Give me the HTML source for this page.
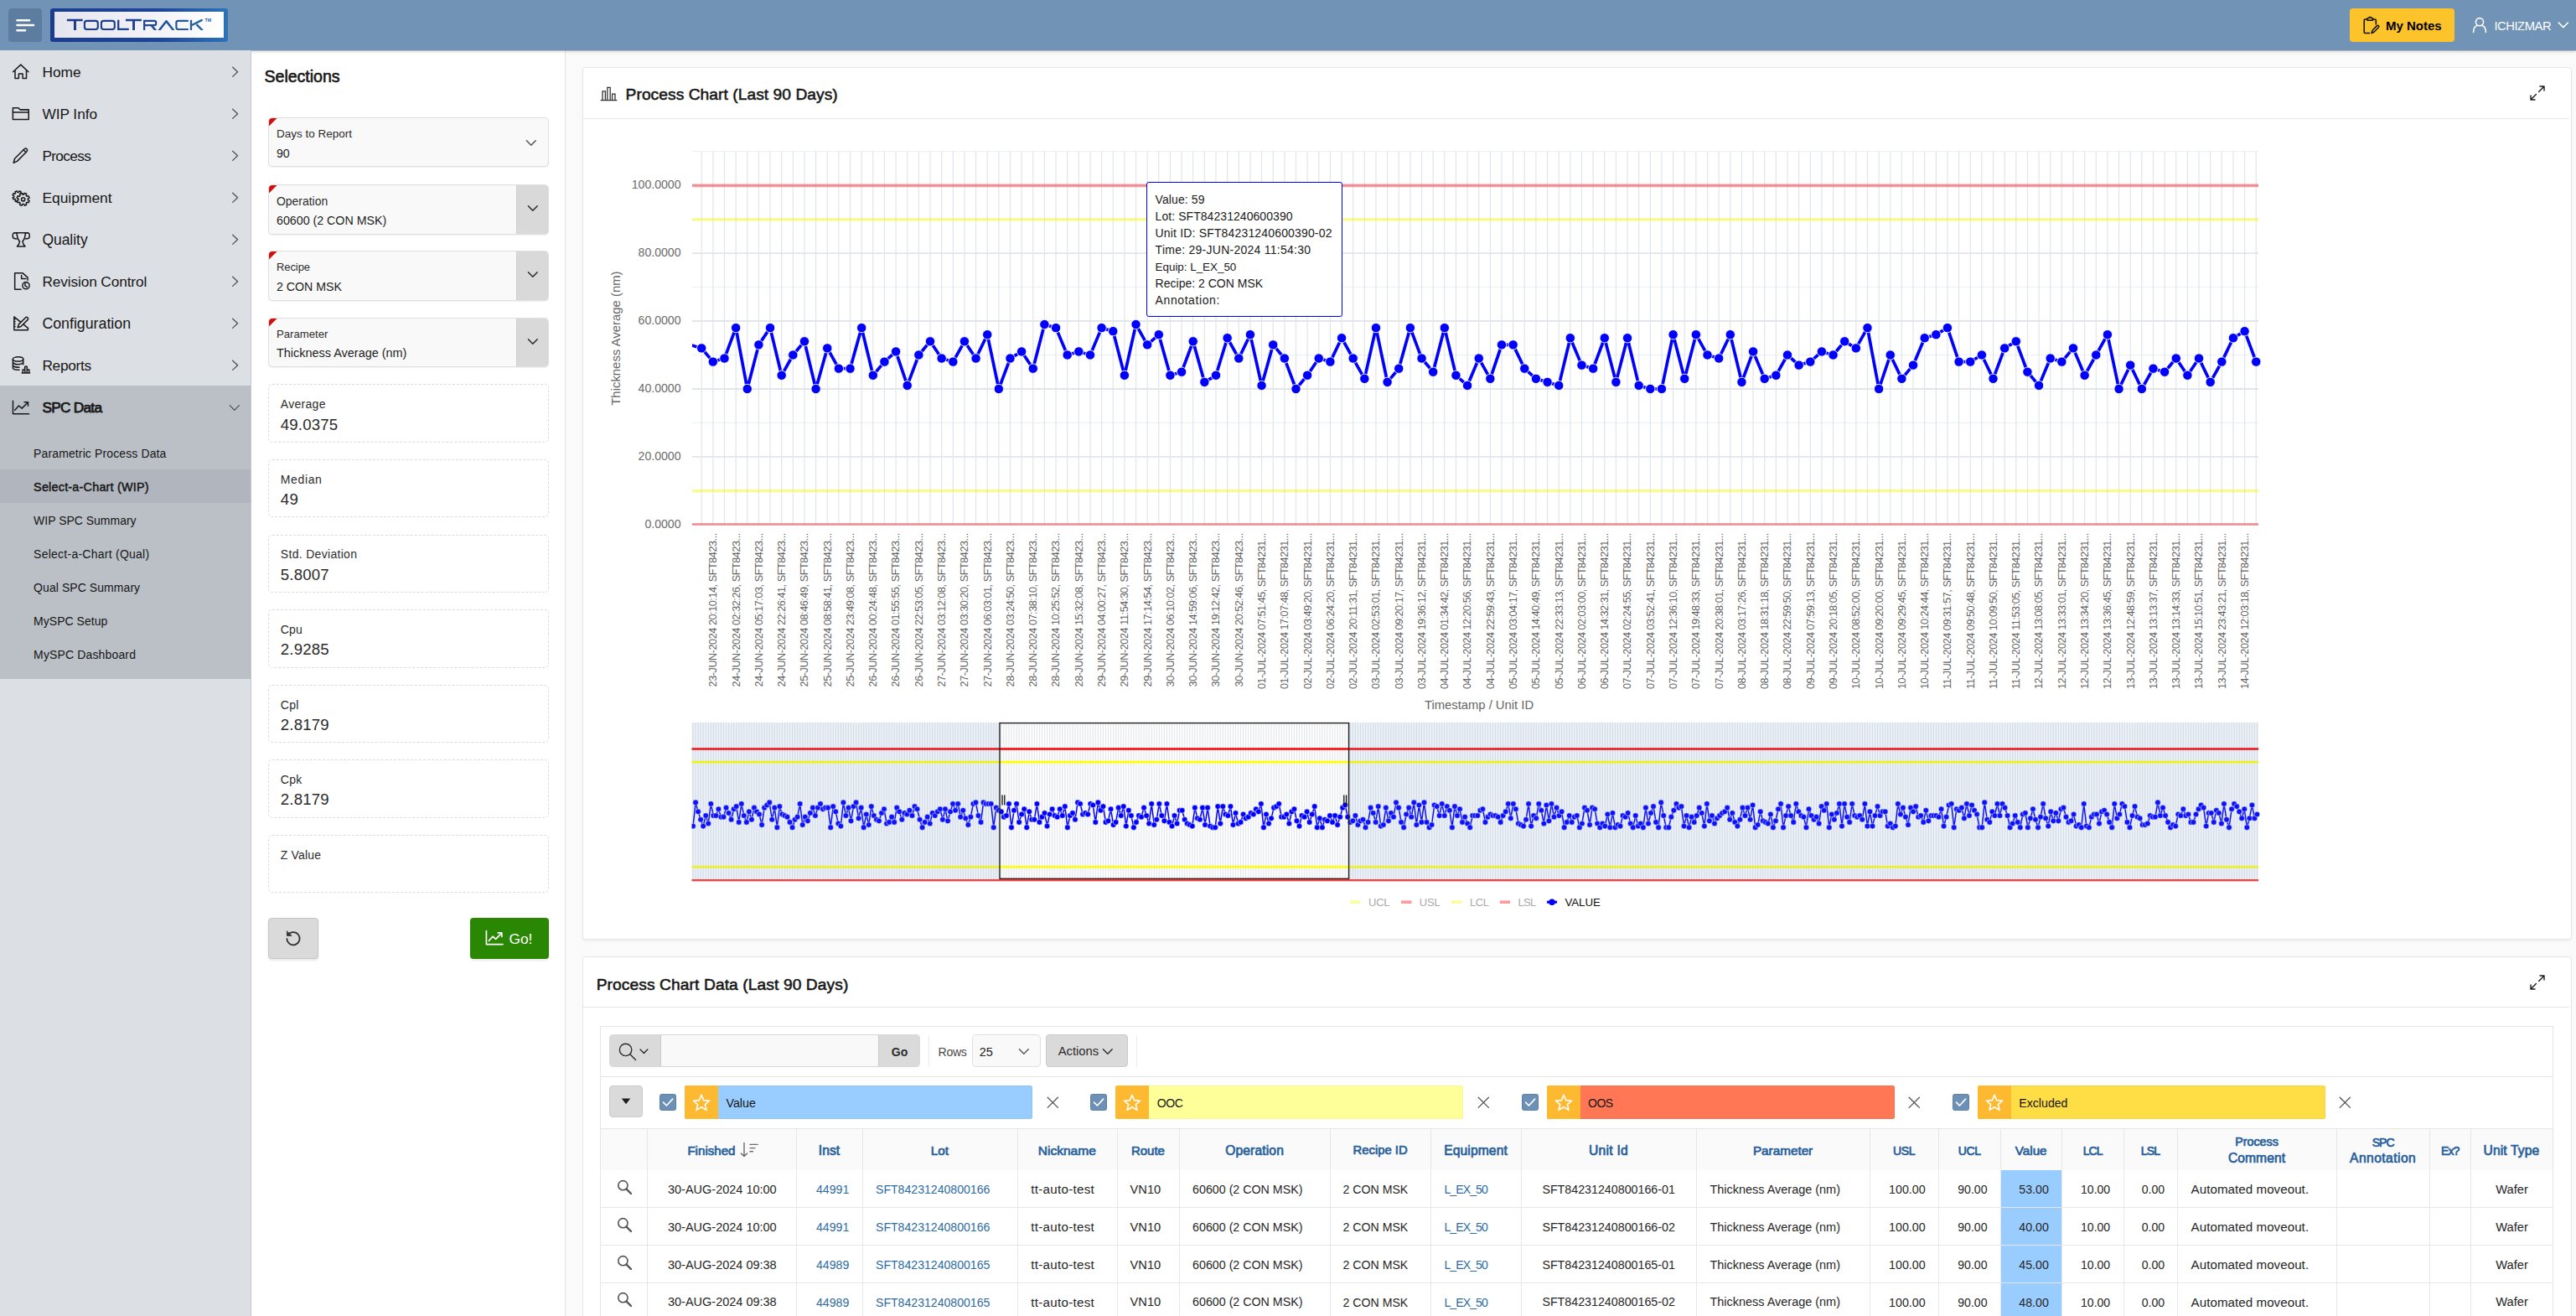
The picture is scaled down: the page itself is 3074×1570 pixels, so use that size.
<!DOCTYPE html>
<html><head><meta charset="utf-8"><title>ToolTrack</title><style>
*{box-sizing:border-box}
html,body{margin:0;padding:0}
body{width:3074px;height:1570px;overflow:hidden;position:relative;background:#fafafa;font-family:"Liberation Sans",sans-serif;color:#262626}
.t{position:absolute;white-space:nowrap}
.abs{position:absolute}
svg{position:absolute;overflow:visible}
</style></head><body>
<div class="abs" style="left:300px;top:60px;width:375px;height:1510px;background:#fff;border-right:1.2px solid #e4e4e4"></div>
<div class="abs" style="left:695px;top:80px;width:2373.5px;height:1040.5px;background:#fff;border:1.2px solid #e6e6e6;border-radius:3px;box-shadow:0 2px 3px rgba(0,0,0,.05)"></div>
<div class="abs" style="left:696px;top:140.6px;width:2370px;height:1.2px;background:#e8e8e8"></div>
<div class="abs" style="left:695px;top:1141px;width:2373.5px;height:460px;background:#fff;border:1.2px solid #e6e6e6;border-radius:3px"></div>
<div class="abs" style="left:696px;top:1201.3px;width:2370px;height:1.2px;background:#e8e8e8"></div>
<div class="abs" style="left:0;top:0;width:3074px;height:60px;background:#7093b6;box-shadow:0 1px 0 rgba(20,50,90,.22),0 2px 3.5px rgba(0,0,0,.13)"></div>
<div class="abs" style="left:10px;top:10px;width:40px;height:40px;background:#5c7d9f;border-radius:4px"></div>
<svg style="left:10px;top:10px" width="40" height="40"><g stroke="#fff" stroke-width="2.6" stroke-linecap="round"><path d="M10.5 14.2H25M10.5 20H30M10.5 26.2H20"/></g></svg>
<div class="abs" style="left:60px;top:10px;width:212px;height:40px;border-radius:3px;background:linear-gradient(90deg,#1b3c8f 0%,#1d4497 60%,#2c73b8 100%)"></div>
<div class="abs" style="left:64.9px;top:13.8px;width:202.4px;height:31.2px;background:linear-gradient(90deg,#e5e5ee 0%,#efeff5 45%,#ffffff 100%)"></div>
<svg style="left:60px;top:10px" width="212" height="40"><defs><linearGradient id="lg" gradientUnits="userSpaceOnUse" x1="20" y1="0" x2="192" y2="0"><stop offset="0" stop-color="#1b3787"/><stop offset="0.5" stop-color="#1c4391"/><stop offset="1" stop-color="#2467aa"/></linearGradient><clipPath id="lc"><rect x="15" y="10" width="180" height="16.05"/></clipPath></defs><g fill="none" stroke="url(#lg)" stroke-width="2.1" stroke-linejoin="miter" clip-path="url(#lc)"><path d="M19.85 14H38.7M89.9 14H108.9" stroke-width="2.35"/><path d="M29.45 14V26.1M99.55 14V26.1" stroke-width="2.9"/><rect x="40.9" y="14.85" width="15.9" height="10.15" rx="2.7"/><rect x="60.9" y="14.85" width="15.9" height="10.15" rx="2.7"/><path d="M81.2 13.8V25H93.8" stroke-width="2.3"/><path d="M112.15 26.1V14.85H124.1Q126.2 14.85 126.2 16.95V17.95Q126.2 20.05 124.1 20.05H112.15" stroke-width="2.2"/><path d="M120.7 20.3L126 26.6" stroke-width="2.5"/><path d="M129.3 27L138.5 15.2L147.700 27" stroke-width="2.5" stroke-linejoin="round"/><path d="M164.800 14.85H152.6Q150.4 14.85 150.4 17.05V22.8Q150.4 25 152.6 25H164.8" stroke-width="2.2"/><path d="M168 13.8V26.1" stroke-width="2.3"/><path d="M181.6 13.6L169 20M174.5 19.2L181.9 26.6" stroke-width="2.4"/></g><text x="184.6" y="16.1" font-family="Liberation Sans" font-size="4.6" font-weight="bold" fill="#2a5fa6" textLength="7.600" lengthAdjust="spacingAndGlyphs">TM</text></svg>
<div class="abs" style="left:2804px;top:10px;width:124.5px;height:40px;background:#fcc32b;border-radius:4px"></div>
<svg style="left:2819px;top:19px" width="22" height="24" viewBox="0 0 22 24"><g fill="none" stroke="#111" stroke-width="1.5" stroke-linejoin="round" stroke-linecap="round"><path d="M6 4H3.2Q2.2 4 2.2 5V19.5Q2.2 20.5 3.2 20.5H8.5"/><path d="M12.5 4H15.3Q16.3 4 16.3 5V10"/><path d="M6 5.2V3.3Q6 2.6 6.8 2.6H8L8.6 1.4H10L10.6 2.6H11.7Q12.5 2.6 12.5 3.3V5.2Z"/><path d="M11 20.6L12 17.2L17.6 11.6Q18.6 10.8 19.5 11.7Q20.3 12.6 19.5 13.5L13.9 19.2Z"/></g></svg>
<div class="t" style="left:2847.00px;top:21.10px;font-size:15.00px;line-height:20px;color:#000;font-weight:bold;">My Notes</div>
<svg style="left:2949px;top:19px" width="20" height="22" viewBox="0 0 20 22"><g fill="none" stroke="#fff" stroke-width="1.6" stroke-linecap="round"><circle cx="10" cy="7.2" r="4.6"/><path d="M2.6 19.5Q2.8 12.6 7.2 11.2M17.4 19.5Q17.2 12.6 12.8 11.2"/></g></svg>
<div class="t" style="left:2976.40px;top:21.60px;font-size:14.76px;line-height:19px;color:#fff;letter-spacing:-0.442px;">ICHIZMAR</div>
<svg style="left:3052px;top:25px" width="14" height="10"><path d="M1.2 2L6.8 7.6L12.4 2" fill="none" stroke="#fff" stroke-width="1.6" stroke-linecap="round" stroke-linejoin="round"/></svg>
<div class="abs" style="left:0;top:60px;width:299px;height:1510px;background:#dcdfe4"></div>
<div class="abs" style="left:298.8px;top:60px;width:1.2px;height:1510px;background:#c3c6cc"></div>
<div class="abs" style="left:0;top:460px;width:298.8px;height:350px;background:#bbc0c6"></div>
<div class="abs" style="left:0;top:560.4px;width:298.8px;height:40px;background:#b0b5be"></div>
<svg style="left:13.9px;top:74.5px" width="22" height="22" viewBox="0 0 21 21"><g fill="none" stroke="#1b1b1b" stroke-width="1.45" stroke-linejoin="round" stroke-linecap="round"><path d="M1.5 10.2L10.3 2L19 10.2"/><path d="M3.8 8.6V17.6H8V12.4H12.5V17.6H16.7V8.6"/></g></svg>
<div class="t" style="left:50.40px;top:74.70px;font-size:17.32px;line-height:23px;color:#161616;">Home</div>
<svg style="left:276px;top:78.7px" width="10" height="14"><path d="M1.6 1.2L7.6 6.8L1.6 12.4" fill="none" stroke="#505050" stroke-width="1.25" stroke-linecap="round" stroke-linejoin="round"/></svg>
<svg style="left:13.9px;top:124.5px" width="22" height="22" viewBox="0 0 21 21"><g fill="none" stroke="#1b1b1b" stroke-width="1.45" stroke-linejoin="round" stroke-linecap="round"><path d="M1.3 16.8V3.6H7.6L9.4 5.6H19.3V16.8Z"/><path d="M1.3 8.6H19.3"/></g></svg>
<div class="t" style="left:50.40px;top:125.20px;font-size:17.28px;line-height:22px;color:#161616;letter-spacing:-0.031px;">WIP Info</div>
<svg style="left:276px;top:128.7px" width="10" height="14"><path d="M1.6 1.2L7.6 6.8L1.6 12.4" fill="none" stroke="#505050" stroke-width="1.25" stroke-linecap="round" stroke-linejoin="round"/></svg>
<svg style="left:13.9px;top:174.5px" width="22" height="22" viewBox="0 0 21 21"><g fill="none" stroke="#1b1b1b" stroke-width="1.45" stroke-linejoin="round" stroke-linecap="round"><path d="M2 18.4L3.4 13.6L14.6 2.4Q15.8 1.4 17.2 2.7Q18.4 4 17.3 5.2L6.2 16.6Z"/><path d="M13.4 3.6L16.2 6.4"/></g></svg>
<div class="t" style="left:50.40px;top:175.20px;font-size:17.28px;line-height:22px;color:#161616;letter-spacing:-0.660px;">Process</div>
<svg style="left:276px;top:178.7px" width="10" height="14"><path d="M1.6 1.2L7.6 6.8L1.6 12.4" fill="none" stroke="#505050" stroke-width="1.25" stroke-linecap="round" stroke-linejoin="round"/></svg>
<svg style="left:13.9px;top:224.5px" width="22" height="22" viewBox="0 0 21 21"><g fill="none" stroke="#1b1b1b" stroke-width="1.45" stroke-linejoin="round" stroke-linecap="round"><path d="M13.34 10.32L12.55 12.23L10.94 11.75L10.05 12.64L10.53 14.25L8.62 15.04L7.83 13.56L6.57 13.56L5.78 15.04L3.87 14.25L4.35 12.64L3.46 11.75L1.85 12.23L1.06 10.32L2.54 9.53L2.54 8.27L1.06 7.48L1.85 5.57L3.46 6.05L4.35 5.16L3.87 3.55L5.78 2.76L6.57 4.24L7.83 4.24L8.62 2.76L10.53 3.55L10.05 5.16L10.94 6.05L12.55 5.57L13.34 7.48L11.86 8.27L11.86 9.53Z"/><path d="M20.11 13.85L19.19 16.06L17.37 15.54L16.34 16.57L16.86 18.39L14.65 19.31L13.73 17.65L12.27 17.65L11.35 19.31L9.14 18.39L9.66 16.57L8.63 15.54L6.81 16.06L5.89 13.85L7.55 12.93L7.55 11.47L5.89 10.55L6.81 8.34L8.63 8.86L9.66 7.83L9.14 6.01L11.35 5.09L12.27 6.75L13.73 6.75L14.65 5.09L16.86 6.01L16.34 7.83L17.37 8.86L19.19 8.34L20.11 10.55L18.45 11.47L18.45 12.93Z" fill="#dcdfe4"/><circle cx="13" cy="12.2" r="2"/></g></svg>
<div class="t" style="left:50.40px;top:224.70px;font-size:17.42px;line-height:23px;color:#161616;">Equipment</div>
<svg style="left:276px;top:228.7px" width="10" height="14"><path d="M1.6 1.2L7.6 6.8L1.6 12.4" fill="none" stroke="#505050" stroke-width="1.25" stroke-linecap="round" stroke-linejoin="round"/></svg>
<svg style="left:13.9px;top:274.5px" width="22" height="22" viewBox="0 0 21 21"><g fill="none" stroke="#1b1b1b" stroke-width="1.45" stroke-linejoin="round" stroke-linecap="round"><path d="M2.900 2.6H18.5"/><path d="M5.8 3Q6.2 9.5 9.1 12.5Q8.600 15.6 6.1 18.1H15.3Q12.8 15.6 12.3 12.5Q15.2 9.5 15.6 3"/><path d="M5.2 2.7Q1.2 2.4 1.2 4.7V7Q1.4 9.4 5.800 9.6M16.2 2.7Q20.2 2.4 20.2 4.7V7Q20 9.4 15.600 9.6"/></g></svg>
<div class="t" style="left:50.40px;top:274.70px;font-size:17.45px;line-height:23px;color:#161616;">Quality</div>
<svg style="left:276px;top:278.7px" width="10" height="14"><path d="M1.6 1.2L7.6 6.8L1.6 12.4" fill="none" stroke="#505050" stroke-width="1.25" stroke-linecap="round" stroke-linejoin="round"/></svg>
<svg style="left:13.9px;top:324.5px" width="22" height="22" viewBox="0 0 21 21"><g fill="none" stroke="#1b1b1b" stroke-width="1.45" stroke-linejoin="round" stroke-linecap="round"><path d="M10.6 19.3H3.5V0.8H12.6L18.2 5.800V8.9"/><path d="M11.1 3.3V7.1H16.2"/><circle cx="16.2" cy="15" r="3.9"/><path d="M15.200 13V15.2L17.4 16.6"/></g></svg>
<div class="t" style="left:50.40px;top:325.20px;font-size:17.28px;line-height:22px;color:#161616;letter-spacing:-0.117px;">Revision Control</div>
<svg style="left:276px;top:328.7px" width="10" height="14"><path d="M1.6 1.2L7.6 6.8L1.6 12.4" fill="none" stroke="#505050" stroke-width="1.25" stroke-linecap="round" stroke-linejoin="round"/></svg>
<svg style="left:13.9px;top:374.5px" width="22" height="22" viewBox="0 0 21 21"><g fill="none" stroke="#1b1b1b" stroke-width="1.45" stroke-linejoin="round" stroke-linecap="round"><path d="M2.7 2.8V18H18.5V15.6L2.7 2.8"/><path d="M2.7 5.6H4.1M2.7 8.4H4.1M2.7 11.2H4.1M2.7 14H4.1" stroke-width="1.1"/><path d="M6.8 15L8 11.3L15.9 3.5Q17 2.600 18.2 3.8Q19.3 5 18.3 6.100L10.5 13.9Z" fill="#dcdfe4"/></g></svg>
<div class="t" style="left:50.40px;top:374.70px;font-size:17.77px;line-height:23px;color:#161616;">Configuration</div>
<svg style="left:276px;top:378.7px" width="10" height="14"><path d="M1.6 1.2L7.6 6.8L1.6 12.4" fill="none" stroke="#505050" stroke-width="1.25" stroke-linecap="round" stroke-linejoin="round"/></svg>
<svg style="left:13.9px;top:424.5px" width="22" height="22" viewBox="0 0 21 21"><g fill="none" stroke="#1b1b1b" stroke-width="1.45" stroke-linejoin="round" stroke-linecap="round"><ellipse cx="7.2" cy="3.3" rx="5.9" ry="2.5"/><path d="M1.3 3.3V13.6Q2 15.6 8.600 15.6M13.1 3.3V9.4M1.3 6.800Q2.200 9.2 7.2 9.3Q11.8 9.2 13.1 7M1.3 10.4Q2.200 12.7 8.600 12.7"/><path d="M12.6 19.1V15.2H15V19.1M15 19.1V11.6H17.4V19.1M17.4 19.1V15.2H19.800V19.1M11.6 19.1H20.6"/></g></svg>
<div class="t" style="left:50.40px;top:425.20px;font-size:17.28px;line-height:22px;color:#161616;letter-spacing:-0.287px;">Reports</div>
<svg style="left:276px;top:428.7px" width="10" height="14"><path d="M1.6 1.2L7.6 6.8L1.6 12.4" fill="none" stroke="#505050" stroke-width="1.25" stroke-linecap="round" stroke-linejoin="round"/></svg>
<svg style="left:13.9px;top:474.5px" width="22" height="22" viewBox="0 0 21 21"><g fill="none" stroke="#1b1b1b" stroke-width="1.45" stroke-linejoin="round" stroke-linecap="round"><path d="M1.4 3V17.8H19.6"/><path d="M3.6 13.6L8 8.6L11.6 11.6L18 5.2"/><path d="M14.4 4.6H18.6V8.8"/></g></svg>
<div class="t" style="left:50.40px;top:475.20px;font-size:17.28px;line-height:22px;color:#161616;letter-spacing:-0.735px;-webkit-text-stroke:0.75px #161616;">SPC Data</div>
<svg style="left:273px;top:481.7px" width="14" height="10"><path d="M1.2 1.6L6.8 7.4L12.4 1.6" fill="none" stroke="#505050" stroke-width="1.25" stroke-linecap="round" stroke-linejoin="round"/></svg>
<div class="t" style="left:40.10px;top:532.10px;font-size:13.97px;line-height:18px;color:#161616;letter-spacing:0.137px;">Parametric Process Data</div>
<div class="t" style="left:40.10px;top:571.63px;font-size:14.40px;line-height:19px;color:#161616;letter-spacing:0.211px;-webkit-text-stroke:0.45px #161616;">Select-a-Chart (WIP)</div>
<div class="t" style="left:40.10px;top:612.16px;font-size:13.97px;line-height:18px;color:#161616;letter-spacing:0.008px;">WIP SPC Summary</div>
<div class="t" style="left:40.10px;top:652.19px;font-size:13.97px;line-height:18px;color:#161616;letter-spacing:0.265px;">Select-a-Chart (Qual)</div>
<div class="t" style="left:40.10px;top:692.22px;font-size:13.97px;line-height:18px;color:#161616;letter-spacing:0.084px;">Qual SPC Summary</div>
<div class="t" style="left:40.10px;top:732.25px;font-size:13.97px;line-height:18px;color:#161616;letter-spacing:0.043px;">MySPC Setup</div>
<div class="t" style="left:40.10px;top:772.28px;font-size:13.97px;line-height:18px;color:#161616;letter-spacing:0.163px;">MySPC Dashboard</div>
<div class="t" style="left:315.50px;top:79.00px;font-size:19.54px;line-height:25px;color:#161616;-webkit-text-stroke:0.60px #161616;">Selections</div>
<div class="abs" style="left:320px;top:139.9px;width:335px;height:59.4px;background:#f9f9f9;border:1.2px solid #dfdfdf;border-radius:5px;box-shadow:0 1px 1.5px rgba(0,0,0,.06);overflow:hidden">
<svg style="left:-1.2px;top:-1.2px" width="12" height="12"><path d="M0 0H11.5L0 11.5Z" fill="#d40e0e"/></svg>
</div>
<div class="t" style="left:330.00px;top:150.80px;font-size:13.49px;line-height:18px;color:#2c2c2c;">Days to Report</div>
<div class="t" style="left:330.00px;top:173.60px;font-size:14.16px;line-height:18px;color:#1d1d1d;">90</div>
<svg style="left:626.8px;top:165.7px" width="14" height="10"><path d="M1.4 1.8L6.8 7.2L12.2 1.8" fill="none" stroke="#555" stroke-width="1.5" stroke-linecap="round" stroke-linejoin="round"/></svg>
<div class="abs" style="left:320px;top:220.3px;width:335px;height:59.4px;background:#f9f9f9;border:1.2px solid #dfdfdf;border-radius:5px;box-shadow:0 1px 1.5px rgba(0,0,0,.06);overflow:hidden">
<div class="abs" style="right:0;top:0;width:38.4px;height:100%;background:#d9d9d9;border-left:1.2px solid #cfcfcf"></div>
<svg style="left:-1.2px;top:-1.2px" width="12" height="12"><path d="M0 0H11.5L0 11.5Z" fill="#d40e0e"/></svg>
</div>
<div class="t" style="left:330.00px;top:230.70px;font-size:13.95px;line-height:18px;color:#2c2c2c;">Operation</div>
<div class="t" style="left:330.00px;top:254.00px;font-size:14.23px;line-height:18px;color:#1d1d1d;">60600 (2 CON MSK)</div>
<svg style="left:628.5px;top:244.1px" width="14" height="10"><path d="M1.4 1.8L6.8 7.2L12.2 1.8" fill="none" stroke="#2b2b2b" stroke-width="1.5" stroke-linecap="round" stroke-linejoin="round"/></svg>
<div class="abs" style="left:320px;top:299.4px;width:335px;height:59.4px;background:#f9f9f9;border:1.2px solid #dfdfdf;border-radius:5px;box-shadow:0 1px 1.5px rgba(0,0,0,.06);overflow:hidden">
<div class="abs" style="right:0;top:0;width:38.4px;height:100%;background:#d9d9d9;border-left:1.2px solid #cfcfcf"></div>
<svg style="left:-1.2px;top:-1.2px" width="12" height="12"><path d="M0 0H11.5L0 11.5Z" fill="#d40e0e"/></svg>
</div>
<div class="t" style="left:330.00px;top:310.30px;font-size:12.96px;line-height:17px;color:#2c2c2c;letter-spacing:-0.057px;">Recipe</div>
<div class="t" style="left:330.00px;top:333.10px;font-size:14.18px;line-height:18px;color:#1d1d1d;">2 CON MSK</div>
<svg style="left:628.5px;top:323.2px" width="14" height="10"><path d="M1.4 1.8L6.8 7.2L12.2 1.8" fill="none" stroke="#2b2b2b" stroke-width="1.5" stroke-linecap="round" stroke-linejoin="round"/></svg>
<div class="abs" style="left:320px;top:379.0px;width:335px;height:59.4px;background:#f9f9f9;border:1.2px solid #dfdfdf;border-radius:5px;box-shadow:0 1px 1.5px rgba(0,0,0,.06);overflow:hidden">
<div class="abs" style="right:0;top:0;width:38.4px;height:100%;background:#d9d9d9;border-left:1.2px solid #cfcfcf"></div>
<svg style="left:-1.2px;top:-1.2px" width="12" height="12"><path d="M0 0H11.5L0 11.5Z" fill="#d40e0e"/></svg>
</div>
<div class="t" style="left:330.00px;top:389.90px;font-size:13.17px;line-height:17px;color:#2c2c2c;">Parameter</div>
<div class="t" style="left:330.00px;top:412.20px;font-size:14.44px;line-height:19px;color:#1d1d1d;">Thickness Average (nm)</div>
<svg style="left:628.5px;top:402.8px" width="14" height="10"><path d="M1.4 1.8L6.8 7.2L12.2 1.8" fill="none" stroke="#2b2b2b" stroke-width="1.5" stroke-linecap="round" stroke-linejoin="round"/></svg>
<div class="abs" style="left:320px;top:458.4px;width:335px;height:69.6px;background:#fff;border:1.2px dashed #dcdcdc;border-radius:5px"></div>
<div class="t" style="left:334.80px;top:473.30px;font-size:13.97px;line-height:18px;color:#2c2c2c;letter-spacing:0.304px;">Average</div>
<div class="t" style="left:334.80px;top:494.70px;font-size:18.62px;line-height:24px;color:#2a2a2a;letter-spacing:0.168px;">49.0375</div>
<div class="abs" style="left:320px;top:547.9px;width:335px;height:69.6px;background:#fff;border:1.2px dashed #dcdcdc;border-radius:5px"></div>
<div class="t" style="left:334.80px;top:562.85px;font-size:13.97px;line-height:18px;color:#2c2c2c;letter-spacing:0.648px;">Median</div>
<div class="t" style="left:334.80px;top:584.25px;font-size:18.62px;line-height:24px;color:#2a2a2a;letter-spacing:0.292px;">49</div>
<div class="abs" style="left:320px;top:637.5px;width:335px;height:69.6px;background:#fff;border:1.2px dashed #dcdcdc;border-radius:5px"></div>
<div class="t" style="left:334.80px;top:652.40px;font-size:13.97px;line-height:18px;color:#2c2c2c;letter-spacing:0.324px;">Std. Deviation</div>
<div class="t" style="left:334.80px;top:673.80px;font-size:18.62px;line-height:24px;color:#2a2a2a;letter-spacing:0.189px;">5.8007</div>
<div class="abs" style="left:320px;top:727.0px;width:335px;height:69.6px;background:#fff;border:1.2px dashed #dcdcdc;border-radius:5px"></div>
<div class="t" style="left:334.80px;top:741.95px;font-size:13.97px;line-height:18px;color:#2c2c2c;letter-spacing:0.225px;">Cpu</div>
<div class="t" style="left:334.80px;top:763.35px;font-size:18.62px;line-height:24px;color:#2a2a2a;letter-spacing:0.189px;">2.9285</div>
<div class="abs" style="left:320px;top:816.6px;width:335px;height:69.6px;background:#fff;border:1.2px dashed #dcdcdc;border-radius:5px"></div>
<div class="t" style="left:334.80px;top:831.50px;font-size:13.97px;line-height:18px;color:#2c2c2c;letter-spacing:0.247px;">Cpl</div>
<div class="t" style="left:334.80px;top:852.90px;font-size:18.62px;line-height:24px;color:#2a2a2a;letter-spacing:0.189px;">2.8179</div>
<div class="abs" style="left:320px;top:906.1px;width:335px;height:69.6px;background:#fff;border:1.2px dashed #dcdcdc;border-radius:5px"></div>
<div class="t" style="left:334.80px;top:921.05px;font-size:13.97px;line-height:18px;color:#2c2c2c;letter-spacing:0.353px;">Cpk</div>
<div class="t" style="left:334.80px;top:942.45px;font-size:18.62px;line-height:24px;color:#2a2a2a;letter-spacing:0.189px;">2.8179</div>
<div class="abs" style="left:320px;top:995.7px;width:335px;height:69.6px;background:#fff;border:1.2px dashed #dcdcdc;border-radius:5px"></div>
<div class="t" style="left:334.80px;top:1010.60px;font-size:13.97px;line-height:18px;color:#2c2c2c;letter-spacing:0.200px;">Z Value</div>
<div class="abs" style="left:320.2px;top:1095px;width:59.6px;height:48.6px;background:#dadada;border:1.2px solid #c6c6c6;border-radius:4px;box-shadow:0 1.5px 2.5px rgba(0,0,0,.09)"></div>
<svg style="left:339px;top:1108px" width="22" height="22" viewBox="0 0 22 22"><g fill="none" stroke="#333" stroke-width="1.7" stroke-linecap="round" stroke-linejoin="round"><path d="M4.6 7.6A7.6 7.6 0 1 1 3.4 11.8"/><path d="M3.4 3V8.4H8.8Z" fill="#333" stroke-width="0.8"/></g></svg>
<div class="abs" style="left:560.5px;top:1095px;width:94.5px;height:48.6px;background:#2a8703;border-radius:4px;box-shadow:0 1.5px 2.5px rgba(0,0,0,.09)"></div>
<svg style="left:579px;top:1109px" width="22" height="20" viewBox="0 0 22 20"><g fill="none" stroke="#fff" stroke-width="1.7" stroke-linecap="round" stroke-linejoin="round"><path d="M1.4 1.6V17.6H21"/><path d="M4.4 13.4L9 8.2L12.6 11.4L19.2 4.6"/><path d="M15.2 3.8H19.8V8.4"/></g></svg>
<div class="t" style="left:607.60px;top:1109.10px;font-size:17.28px;line-height:22px;color:#fff;letter-spacing:-0.084px;">Go!</div>
<svg style="left:715.5px;top:102px" width="22" height="20" viewBox="0 0 22 20"><g fill="none" stroke="#333" stroke-width="1.3"><path d="M0.6 17.6H20.4"/><path d="M3 17.6V6.8H6.4V17.6M8.8 17.6V2.4H12.2V17.6M14.6 17.6V10.2H18V17.6"/></g></svg>
<div class="t" style="left:746.60px;top:100.40px;font-size:19.20px;line-height:25px;color:#161616;letter-spacing:0.054px;-webkit-text-stroke:0.55px #161616;">Process Chart (Last 90 Days)</div>
<div class="t" style="left:711.70px;top:1161.50px;font-size:19.20px;line-height:25px;color:#161616;letter-spacing:0.098px;-webkit-text-stroke:0.55px #161616;">Process Chart Data (Last 90 Days)</div>
<svg style="left:3019px;top:101.5px" width="18" height="18"><g fill="none" stroke="#1d1d1d" stroke-width="1.4" stroke-linecap="round" stroke-linejoin="round"><path d="M10.6 7.4L17 1M12 1H17V6"/><path d="M7.4 10.6L1 17M1 12V17H6"/></g></svg>
<svg style="left:3019px;top:1162.5px" width="18" height="18"><g fill="none" stroke="#1d1d1d" stroke-width="1.4" stroke-linecap="round" stroke-linejoin="round"><path d="M10.6 7.4L17 1M12 1H17V6"/><path d="M7.4 10.6L1 17M1 12V17H6"/></g></svg>
<div class="abs" style="left:716.2px;top:1223.8px;width:2330.4px;height:400px;border:1.2px solid #e6e6e6;background:#fff"></div>
<div class="abs" style="left:717px;top:1283.8px;width:2329px;height:1.2px;background:#e6e6e6"></div>
<div class="abs" style="left:727.4px;top:1234.4px;width:370.4px;height:38.6px;background:#f9f9f9;border:1.2px solid #d8d8d8;border-radius:4px;overflow:hidden"><div class="abs" style="left:0;top:0;width:61px;height:100%;background:#dadada;border-right:1.2px solid #cbcbcb"></div><div class="abs" style="right:0;top:0;width:48.5px;height:100%;background:#dadada;border-left:1.2px solid #cbcbcb"></div></div>
<svg style="left:737px;top:1243px" width="44" height="24" viewBox="0 0 44 24"><g fill="none" stroke="#2d2d2d" stroke-width="1.4" stroke-linecap="round" stroke-linejoin="round"><circle cx="9.6" cy="9.4" r="7.2"/><path d="M14.8 14.8L21.6 21.6"/><path d="M27 9L31.4 13.4L35.8 9"/></g></svg>
<div class="t" style="left:1063.85px;top:1246.10px;font-size:14.04px;line-height:18px;color:#2b2b2b;font-weight:bold;">Go</div>
<div class="abs" style="left:1107.6px;top:1235px;width:1.2px;height:38px;background:#ececec"></div>
<div class="t" style="left:1119.60px;top:1245.90px;font-size:14.04px;line-height:18px;color:#4a4a4a;letter-spacing:-0.277px;">Rows</div>
<div class="abs" style="left:1159.6px;top:1234.4px;width:82.8px;height:38.6px;background:#f9f9f9;border:1.2px solid #dfdfdf;border-radius:5px"></div>
<div class="t" style="left:1168.70px;top:1245.60px;font-size:14.47px;line-height:19px;color:#222;">25</div>
<svg style="left:1215px;top:1250px" width="14" height="10"><path d="M1.4 1.8L6.8 7.2L12.2 1.8" fill="none" stroke="#555" stroke-width="1.4" stroke-linecap="round" stroke-linejoin="round"/></svg>
<div class="abs" style="left:1248.2px;top:1234.4px;width:97.4px;height:38.6px;background:#dadada;border:1.2px solid #cbcbcb;border-radius:4px"></div>
<div class="t" style="left:1262.70px;top:1245.40px;font-size:14.76px;line-height:19px;color:#2b2b2b;">Actions</div>
<svg style="left:1315px;top:1250px" width="14" height="10"><path d="M1.4 1.8L6.8 7.2L12.2 1.8" fill="none" stroke="#2b2b2b" stroke-width="1.4" stroke-linecap="round" stroke-linejoin="round"/></svg>
<div class="abs" style="left:1355.6px;top:1235px;width:1.2px;height:38px;background:#ececec"></div>
<div class="abs" style="left:727.4px;top:1295.3px;width:39.2px;height:38.2px;background:#dadada;border:1.2px solid #cbcbcb;border-radius:4px"></div>
<svg style="left:740.5px;top:1309.5px" width="12" height="8"><path d="M0.8 0.6H11.2L6 7.2Z" fill="#1d1d1d"/></svg>
<div class="abs" style="left:787.0px;top:1304.8px;width:20px;height:20px;background:#6d90b6;border:1.2px solid #5e80a5;border-radius:2.5px"></div>
<svg style="left:787.0px;top:1304.8px" width="20" height="20"><path d="M4.6 10.2L8.4 14L15.6 6.2" fill="none" stroke="#fff" stroke-width="1.7" stroke-linecap="round" stroke-linejoin="round"/></svg>
<div class="abs" style="left:817.0px;top:1295.2px;width:415px;height:39.4px;background:#99ccff;border-radius:2.5px;overflow:hidden;box-shadow:inset 0 0 0 1px rgba(0,0,0,.04)"><div class="abs" style="left:0;top:0;width:40.2px;height:100%;background:#fdb92f"></div></div>
<svg style="left:825.2px;top:1303.6px" width="24" height="23" viewBox="0 0 24 23"><path d="M12 2.2L14.7 8.6L21.6 9.2L16.4 13.7L18 20.4L12 16.8L6 20.4L7.600 13.7L2.4 9.2L9.3 8.6Z" fill="none" stroke="#fff" stroke-width="1.6" stroke-linejoin="round"/></svg>
<div class="t" style="left:866.50px;top:1306.60px;font-size:14.25px;line-height:19px;color:#151515;">Value</div>
<svg style="left:1248.6px;top:1307.6px" width="15" height="15"><path d="M1.2 1.2L13.4 13.4M13.4 1.2L1.2 13.4" fill="none" stroke="#555" stroke-width="1.3" stroke-linecap="round"/></svg>
<div class="abs" style="left:1301.2px;top:1304.8px;width:20px;height:20px;background:#6d90b6;border:1.2px solid #5e80a5;border-radius:2.5px"></div>
<svg style="left:1301.2px;top:1304.8px" width="20" height="20"><path d="M4.6 10.2L8.4 14L15.6 6.2" fill="none" stroke="#fff" stroke-width="1.7" stroke-linecap="round" stroke-linejoin="round"/></svg>
<div class="abs" style="left:1331.2px;top:1295.2px;width:415px;height:39.4px;background:#ffff99;border-radius:2.5px;overflow:hidden;box-shadow:inset 0 0 0 1px rgba(0,0,0,.04)"><div class="abs" style="left:0;top:0;width:40.2px;height:100%;background:#fdb92f"></div></div>
<svg style="left:1339.4px;top:1303.6px" width="24" height="23" viewBox="0 0 24 23"><path d="M12 2.2L14.7 8.6L21.6 9.2L16.4 13.7L18 20.4L12 16.8L6 20.4L7.600 13.7L2.4 9.2L9.3 8.6Z" fill="none" stroke="#fff" stroke-width="1.6" stroke-linejoin="round"/></svg>
<div class="t" style="left:1380.70px;top:1307.10px;font-size:14.04px;line-height:18px;color:#151515;letter-spacing:-0.327px;">OOC</div>
<svg style="left:1762.8px;top:1307.6px" width="15" height="15"><path d="M1.2 1.2L13.4 13.4M13.4 1.2L1.2 13.4" fill="none" stroke="#555" stroke-width="1.3" stroke-linecap="round"/></svg>
<div class="abs" style="left:1815.6px;top:1304.8px;width:20px;height:20px;background:#6d90b6;border:1.2px solid #5e80a5;border-radius:2.5px"></div>
<svg style="left:1815.6px;top:1304.8px" width="20" height="20"><path d="M4.6 10.2L8.4 14L15.6 6.2" fill="none" stroke="#fff" stroke-width="1.7" stroke-linecap="round" stroke-linejoin="round"/></svg>
<div class="abs" style="left:1845.6px;top:1295.2px;width:415px;height:39.4px;background:#ff7755;border-radius:2.5px;overflow:hidden;box-shadow:inset 0 0 0 1px rgba(0,0,0,.04)"><div class="abs" style="left:0;top:0;width:40.2px;height:100%;background:#fdb92f"></div></div>
<svg style="left:1853.8px;top:1303.6px" width="24" height="23" viewBox="0 0 24 23"><path d="M12 2.2L14.7 8.6L21.6 9.2L16.4 13.7L18 20.4L12 16.8L6 20.4L7.600 13.7L2.4 9.2L9.3 8.6Z" fill="none" stroke="#fff" stroke-width="1.6" stroke-linejoin="round"/></svg>
<div class="t" style="left:1895.10px;top:1307.10px;font-size:14.04px;line-height:18px;color:#151515;letter-spacing:-0.535px;">OOS</div>
<svg style="left:2277.2px;top:1307.6px" width="15" height="15"><path d="M1.2 1.2L13.4 13.4M13.4 1.2L1.2 13.4" fill="none" stroke="#555" stroke-width="1.3" stroke-linecap="round"/></svg>
<div class="abs" style="left:2329.8px;top:1304.8px;width:20px;height:20px;background:#6d90b6;border:1.2px solid #5e80a5;border-radius:2.5px"></div>
<svg style="left:2329.8px;top:1304.8px" width="20" height="20"><path d="M4.6 10.2L8.4 14L15.6 6.2" fill="none" stroke="#fff" stroke-width="1.7" stroke-linecap="round" stroke-linejoin="round"/></svg>
<div class="abs" style="left:2359.8px;top:1295.2px;width:415px;height:39.4px;background:#ffdd44;border-radius:2.5px;overflow:hidden;box-shadow:inset 0 0 0 1px rgba(0,0,0,.04)"><div class="abs" style="left:0;top:0;width:40.2px;height:100%;background:#fdb92f"></div></div>
<svg style="left:2368.0px;top:1303.6px" width="24" height="23" viewBox="0 0 24 23"><path d="M12 2.2L14.7 8.6L21.6 9.2L16.4 13.7L18 20.4L12 16.8L6 20.4L7.600 13.7L2.4 9.2L9.3 8.6Z" fill="none" stroke="#fff" stroke-width="1.6" stroke-linejoin="round"/></svg>
<div class="t" style="left:2409.30px;top:1307.10px;font-size:14.15px;line-height:18px;color:#151515;">Excluded</div>
<svg style="left:2791.4px;top:1307.6px" width="15" height="15"><path d="M1.2 1.2L13.4 13.4M13.4 1.2L1.2 13.4" fill="none" stroke="#555" stroke-width="1.3" stroke-linecap="round"/></svg>
<div class="abs" style="left:717px;top:1346px;width:2329px;height:49.6px;background:#fafafa;border-top:1.2px solid #e7e7e7"></div>
<div class="abs" style="left:2387.6px;top:1395.6px;width:72.9px;height:180px;background:#99ccff"></div>
<div class="abs" style="left:772.0px;top:1346px;width:1.2px;height:230px;background:#e7e7e7"></div>
<div class="abs" style="left:949.8px;top:1346px;width:1.2px;height:230px;background:#e7e7e7"></div>
<div class="abs" style="left:1028.7px;top:1346px;width:1.2px;height:230px;background:#e7e7e7"></div>
<div class="abs" style="left:1213.6px;top:1346px;width:1.2px;height:230px;background:#e7e7e7"></div>
<div class="abs" style="left:1332.6px;top:1346px;width:1.2px;height:230px;background:#e7e7e7"></div>
<div class="abs" style="left:1406.8px;top:1346px;width:1.2px;height:230px;background:#e7e7e7"></div>
<div class="abs" style="left:1586.9px;top:1346px;width:1.2px;height:230px;background:#e7e7e7"></div>
<div class="abs" style="left:1706.8px;top:1346px;width:1.2px;height:230px;background:#e7e7e7"></div>
<div class="abs" style="left:1814.9px;top:1346px;width:1.2px;height:230px;background:#e7e7e7"></div>
<div class="abs" style="left:2023.7px;top:1346px;width:1.2px;height:230px;background:#e7e7e7"></div>
<div class="abs" style="left:2231.0px;top:1346px;width:1.2px;height:230px;background:#e7e7e7"></div>
<div class="abs" style="left:2312.8px;top:1346px;width:1.2px;height:230px;background:#e7e7e7"></div>
<div class="abs" style="left:2387.0px;top:1346px;width:1.2px;height:230px;background:#e7e7e7"></div>
<div class="abs" style="left:2459.9px;top:1346px;width:1.2px;height:230px;background:#e7e7e7"></div>
<div class="abs" style="left:2533.8px;top:1346px;width:1.2px;height:230px;background:#e7e7e7"></div>
<div class="abs" style="left:2597.7px;top:1346px;width:1.2px;height:230px;background:#e7e7e7"></div>
<div class="abs" style="left:2787.9px;top:1346px;width:1.2px;height:230px;background:#e7e7e7"></div>
<div class="abs" style="left:2898.9px;top:1346px;width:1.2px;height:230px;background:#e7e7e7"></div>
<div class="abs" style="left:2948.0px;top:1346px;width:1.2px;height:230px;background:#e7e7e7"></div>
<div class="abs" style="left:717px;top:1440.0px;width:2329px;height:1.2px;background:#e7e7e7"></div>
<div class="abs" style="left:717px;top:1484.9px;width:2329px;height:1.2px;background:#e7e7e7"></div>
<div class="abs" style="left:717px;top:1529.8px;width:2329px;height:1.2px;background:#e7e7e7"></div>
<div class="abs" style="left:717px;top:1574.8px;width:2329px;height:1.2px;background:#e7e7e7"></div>
<div class="t" style="left:820.40px;top:1362.50px;font-size:15.11px;line-height:20px;color:#27609a;-webkit-text-stroke:0.70px #27609a;">Finished</div>
<svg style="left:883px;top:1362px" width="24" height="20" viewBox="0 0 24 20"><g fill="none" stroke="#6a6a6a" stroke-width="1.4" stroke-linecap="round" stroke-linejoin="round"><path d="M5 1.4V17.6M1.4 14L5 17.6L8.6 14"/><path d="M12 3.4H21M12 7.6H18M12 11.8H15.4"/></g></svg>
<div class="t" style="left:976.85px;top:1362.50px;font-size:15.60px;line-height:20px;color:#27609a;letter-spacing:0.039px;-webkit-text-stroke:0.70px #27609a;">Inst</div>
<div class="t" style="left:1110.75px;top:1362.50px;font-size:15.32px;line-height:20px;color:#27609a;-webkit-text-stroke:0.70px #27609a;">Lot</div>
<div class="t" style="left:1238.75px;top:1362.50px;font-size:15.56px;line-height:20px;color:#27609a;-webkit-text-stroke:0.70px #27609a;">Nickname</div>
<div class="t" style="left:1349.90px;top:1362.50px;font-size:15.03px;line-height:20px;color:#27609a;-webkit-text-stroke:0.70px #27609a;">Route</div>
<div class="t" style="left:1462.15px;top:1362.50px;font-size:15.60px;line-height:20px;color:#27609a;letter-spacing:0.154px;-webkit-text-stroke:0.70px #27609a;">Operation</div>
<div class="t" style="left:1614.60px;top:1363.00px;font-size:14.80px;line-height:19px;color:#27609a;-webkit-text-stroke:0.70px #27609a;">Recipe ID</div>
<div class="t" style="left:1723.25px;top:1362.50px;font-size:15.60px;line-height:20px;color:#27609a;letter-spacing:0.124px;-webkit-text-stroke:0.70px #27609a;">Equipment</div>
<div class="t" style="left:1896.00px;top:1362.50px;font-size:15.60px;line-height:20px;color:#27609a;letter-spacing:0.288px;-webkit-text-stroke:0.70px #27609a;">Unit Id</div>
<div class="t" style="left:2091.95px;top:1362.50px;font-size:15.27px;line-height:20px;color:#27609a;-webkit-text-stroke:0.70px #27609a;">Parameter</div>
<div class="t" style="left:2259.00px;top:1363.50px;font-size:14.04px;line-height:18px;color:#27609a;letter-spacing:-0.338px;-webkit-text-stroke:0.70px #27609a;">USL</div>
<div class="t" style="left:2336.65px;top:1363.50px;font-size:14.04px;line-height:18px;color:#27609a;letter-spacing:-0.363px;-webkit-text-stroke:0.70px #27609a;">UCL</div>
<div class="t" style="left:2404.85px;top:1362.50px;font-size:15.18px;line-height:20px;color:#27609a;-webkit-text-stroke:0.70px #27609a;">Value</div>
<div class="t" style="left:2485.65px;top:1363.50px;font-size:14.04px;line-height:18px;color:#27609a;letter-spacing:-0.952px;-webkit-text-stroke:0.70px #27609a;">LCL</div>
<div class="t" style="left:2554.85px;top:1363.50px;font-size:14.04px;line-height:18px;color:#27609a;letter-spacing:-0.894px;-webkit-text-stroke:0.70px #27609a;">LSL</div>
<div class="t" style="left:2667.15px;top:1353.00px;font-size:14.34px;line-height:19px;color:#27609a;-webkit-text-stroke:0.70px #27609a;">Process</div>
<div class="t" style="left:2658.95px;top:1372.30px;font-size:15.60px;line-height:20px;color:#27609a;letter-spacing:0.083px;-webkit-text-stroke:0.70px #27609a;">Comment</div>
<div class="t" style="left:2830.65px;top:1353.50px;font-size:14.04px;line-height:18px;color:#27609a;letter-spacing:-0.957px;-webkit-text-stroke:0.70px #27609a;">SPC</div>
<div class="t" style="left:2804.05px;top:1372.30px;font-size:15.60px;line-height:20px;color:#27609a;letter-spacing:0.460px;-webkit-text-stroke:0.70px #27609a;">Annotation</div>
<div class="t" style="left:2912.90px;top:1363.50px;font-size:14.04px;line-height:18px;color:#27609a;letter-spacing:-0.865px;-webkit-text-stroke:0.70px #27609a;">Ex?</div>
<div class="t" style="left:2963.50px;top:1362.50px;font-size:15.60px;line-height:20px;color:#27609a;letter-spacing:0.143px;-webkit-text-stroke:0.70px #27609a;">Unit Type</div>
<svg style="left:735.6px;top:1406.6px" width="19" height="19"><g fill="none" stroke="#555" stroke-linecap="round"><circle cx="7.4" cy="7.2" r="5.6" stroke-width="1.6"/><path d="M11.6 11.6L17 17" stroke-width="2.4"/></g></svg>
<div class="t" style="left:797.00px;top:1409.60px;font-size:14.49px;line-height:19px;color:#262626;">30-AUG-2024 10:00</div>
<div class="t" style="left:973.90px;top:1410.10px;font-size:14.17px;line-height:18px;color:#2d6ca2;">44991</div>
<div class="t" style="left:1045.00px;top:1410.10px;font-size:14.10px;line-height:18px;color:#2d6ca2;">SFT84231240800166</div>
<div class="t" style="left:1230.20px;top:1409.10px;font-size:15.13px;line-height:20px;color:#262626;letter-spacing:0.298px;">tt-auto-test</div>
<div class="t" style="left:1348.60px;top:1409.60px;font-size:14.67px;line-height:19px;color:#262626;">VN10</div>
<div class="t" style="left:1423.10px;top:1409.60px;font-size:14.24px;line-height:19px;color:#262626;">60600 (2 CON MSK)</div>
<div class="t" style="left:1602.60px;top:1410.10px;font-size:14.12px;line-height:18px;color:#262626;">2 CON MSK</div>
<div class="t" style="left:1723.40px;top:1410.10px;font-size:14.04px;line-height:18px;color:#2d6ca2;letter-spacing:-0.882px;">L_EX_50</div>
<div class="t" style="left:1840.40px;top:1409.60px;font-size:14.25px;line-height:19px;color:#262626;">SFT84231240800166-01</div>
<div class="t" style="left:2040.40px;top:1409.60px;font-size:14.46px;line-height:19px;color:#262626;">Thickness Average (nm)</div>
<div class="t" style="left:2254.10px;top:1410.10px;font-size:14.22px;line-height:18px;color:#262626;">100.00</div>
<div class="t" style="left:2336.30px;top:1410.10px;font-size:14.07px;line-height:18px;color:#262626;">90.00</div>
<div class="t" style="left:2409.30px;top:1410.10px;font-size:14.19px;line-height:18px;color:#262626;">53.00</div>
<div class="t" style="left:2483.10px;top:1410.10px;font-size:14.04px;line-height:18px;color:#262626;letter-spacing:-0.027px;">10.00</div>
<div class="t" style="left:2555.80px;top:1410.10px;font-size:14.04px;line-height:18px;color:#262626;letter-spacing:-0.057px;">0.00</div>
<div class="t" style="left:2614.60px;top:1409.10px;font-size:15.13px;line-height:20px;color:#262626;letter-spacing:0.054px;">Automated moveout.</div>
<div class="t" style="left:2978.20px;top:1409.60px;font-size:14.68px;line-height:19px;color:#262626;">Wafer</div>
<svg style="left:735.6px;top:1451.5px" width="19" height="19"><g fill="none" stroke="#555" stroke-linecap="round"><circle cx="7.4" cy="7.2" r="5.6" stroke-width="1.6"/><path d="M11.6 11.6L17 17" stroke-width="2.4"/></g></svg>
<div class="t" style="left:797.00px;top:1454.55px;font-size:14.49px;line-height:19px;color:#262626;">30-AUG-2024 10:00</div>
<div class="t" style="left:973.90px;top:1455.05px;font-size:14.17px;line-height:18px;color:#2d6ca2;">44991</div>
<div class="t" style="left:1045.00px;top:1455.05px;font-size:14.10px;line-height:18px;color:#2d6ca2;">SFT84231240800166</div>
<div class="t" style="left:1230.20px;top:1454.05px;font-size:15.13px;line-height:20px;color:#262626;letter-spacing:0.298px;">tt-auto-test</div>
<div class="t" style="left:1348.60px;top:1454.55px;font-size:14.67px;line-height:19px;color:#262626;">VN10</div>
<div class="t" style="left:1423.10px;top:1454.55px;font-size:14.24px;line-height:19px;color:#262626;">60600 (2 CON MSK)</div>
<div class="t" style="left:1602.60px;top:1455.05px;font-size:14.12px;line-height:18px;color:#262626;">2 CON MSK</div>
<div class="t" style="left:1723.40px;top:1455.05px;font-size:14.04px;line-height:18px;color:#2d6ca2;letter-spacing:-0.882px;">L_EX_50</div>
<div class="t" style="left:1840.40px;top:1454.55px;font-size:14.25px;line-height:19px;color:#262626;">SFT84231240800166-02</div>
<div class="t" style="left:2040.40px;top:1454.55px;font-size:14.46px;line-height:19px;color:#262626;">Thickness Average (nm)</div>
<div class="t" style="left:2254.10px;top:1455.05px;font-size:14.22px;line-height:18px;color:#262626;">100.00</div>
<div class="t" style="left:2336.30px;top:1455.05px;font-size:14.07px;line-height:18px;color:#262626;">90.00</div>
<div class="t" style="left:2409.30px;top:1455.05px;font-size:14.19px;line-height:18px;color:#262626;">40.00</div>
<div class="t" style="left:2483.10px;top:1455.05px;font-size:14.04px;line-height:18px;color:#262626;letter-spacing:-0.027px;">10.00</div>
<div class="t" style="left:2555.80px;top:1455.05px;font-size:14.04px;line-height:18px;color:#262626;letter-spacing:-0.057px;">0.00</div>
<div class="t" style="left:2614.60px;top:1454.05px;font-size:15.13px;line-height:20px;color:#262626;letter-spacing:0.054px;">Automated moveout.</div>
<div class="t" style="left:2978.20px;top:1454.55px;font-size:14.68px;line-height:19px;color:#262626;">Wafer</div>
<svg style="left:735.6px;top:1496.5px" width="19" height="19"><g fill="none" stroke="#555" stroke-linecap="round"><circle cx="7.4" cy="7.2" r="5.6" stroke-width="1.6"/><path d="M11.6 11.6L17 17" stroke-width="2.4"/></g></svg>
<div class="t" style="left:797.00px;top:1499.50px;font-size:14.49px;line-height:19px;color:#262626;">30-AUG-2024 09:38</div>
<div class="t" style="left:973.90px;top:1500.00px;font-size:14.17px;line-height:18px;color:#2d6ca2;">44989</div>
<div class="t" style="left:1045.00px;top:1500.00px;font-size:14.10px;line-height:18px;color:#2d6ca2;">SFT84231240800165</div>
<div class="t" style="left:1230.20px;top:1499.00px;font-size:15.13px;line-height:20px;color:#262626;letter-spacing:0.298px;">tt-auto-test</div>
<div class="t" style="left:1348.60px;top:1499.50px;font-size:14.67px;line-height:19px;color:#262626;">VN10</div>
<div class="t" style="left:1423.10px;top:1499.50px;font-size:14.24px;line-height:19px;color:#262626;">60600 (2 CON MSK)</div>
<div class="t" style="left:1602.60px;top:1500.00px;font-size:14.12px;line-height:18px;color:#262626;">2 CON MSK</div>
<div class="t" style="left:1723.40px;top:1500.00px;font-size:14.04px;line-height:18px;color:#2d6ca2;letter-spacing:-0.882px;">L_EX_50</div>
<div class="t" style="left:1840.40px;top:1499.50px;font-size:14.25px;line-height:19px;color:#262626;">SFT84231240800165-01</div>
<div class="t" style="left:2040.40px;top:1499.50px;font-size:14.46px;line-height:19px;color:#262626;">Thickness Average (nm)</div>
<div class="t" style="left:2254.10px;top:1500.00px;font-size:14.22px;line-height:18px;color:#262626;">100.00</div>
<div class="t" style="left:2336.30px;top:1500.00px;font-size:14.07px;line-height:18px;color:#262626;">90.00</div>
<div class="t" style="left:2409.30px;top:1500.00px;font-size:14.19px;line-height:18px;color:#262626;">45.00</div>
<div class="t" style="left:2483.10px;top:1500.00px;font-size:14.04px;line-height:18px;color:#262626;letter-spacing:-0.027px;">10.00</div>
<div class="t" style="left:2555.80px;top:1500.00px;font-size:14.04px;line-height:18px;color:#262626;letter-spacing:-0.057px;">0.00</div>
<div class="t" style="left:2614.60px;top:1499.00px;font-size:15.13px;line-height:20px;color:#262626;letter-spacing:0.054px;">Automated moveout.</div>
<div class="t" style="left:2978.20px;top:1499.50px;font-size:14.68px;line-height:19px;color:#262626;">Wafer</div>
<svg style="left:735.6px;top:1541.4px" width="19" height="19"><g fill="none" stroke="#555" stroke-linecap="round"><circle cx="7.4" cy="7.2" r="5.6" stroke-width="1.6"/><path d="M11.6 11.6L17 17" stroke-width="2.4"/></g></svg>
<div class="t" style="left:797.00px;top:1544.45px;font-size:14.49px;line-height:19px;color:#262626;">30-AUG-2024 09:38</div>
<div class="t" style="left:973.90px;top:1544.95px;font-size:14.17px;line-height:18px;color:#2d6ca2;">44989</div>
<div class="t" style="left:1045.00px;top:1544.95px;font-size:14.10px;line-height:18px;color:#2d6ca2;">SFT84231240800165</div>
<div class="t" style="left:1230.20px;top:1543.95px;font-size:15.13px;line-height:20px;color:#262626;letter-spacing:0.298px;">tt-auto-test</div>
<div class="t" style="left:1348.60px;top:1544.45px;font-size:14.67px;line-height:19px;color:#262626;">VN10</div>
<div class="t" style="left:1423.10px;top:1544.45px;font-size:14.24px;line-height:19px;color:#262626;">60600 (2 CON MSK)</div>
<div class="t" style="left:1602.60px;top:1544.95px;font-size:14.12px;line-height:18px;color:#262626;">2 CON MSK</div>
<div class="t" style="left:1723.40px;top:1544.95px;font-size:14.04px;line-height:18px;color:#2d6ca2;letter-spacing:-0.882px;">L_EX_50</div>
<div class="t" style="left:1840.40px;top:1544.45px;font-size:14.25px;line-height:19px;color:#262626;">SFT84231240800165-02</div>
<div class="t" style="left:2040.40px;top:1544.45px;font-size:14.46px;line-height:19px;color:#262626;">Thickness Average (nm)</div>
<div class="t" style="left:2254.10px;top:1544.95px;font-size:14.22px;line-height:18px;color:#262626;">100.00</div>
<div class="t" style="left:2336.30px;top:1544.95px;font-size:14.07px;line-height:18px;color:#262626;">90.00</div>
<div class="t" style="left:2409.30px;top:1544.95px;font-size:14.19px;line-height:18px;color:#262626;">48.00</div>
<div class="t" style="left:2483.10px;top:1544.95px;font-size:14.04px;line-height:18px;color:#262626;letter-spacing:-0.027px;">10.00</div>
<div class="t" style="left:2555.80px;top:1544.95px;font-size:14.04px;line-height:18px;color:#262626;letter-spacing:-0.057px;">0.00</div>
<div class="t" style="left:2614.60px;top:1543.95px;font-size:15.13px;line-height:20px;color:#262626;letter-spacing:0.054px;">Automated moveout.</div>
<div class="t" style="left:2978.20px;top:1544.45px;font-size:14.68px;line-height:19px;color:#262626;">Wafer</div>
<svg style="left:0;top:0" width="3074" height="1570" viewBox="0 0 3074 1570" font-family="Liberation Sans">
<defs><clipPath id="cp"><rect x="826.0" y="176" width="1876.0" height="456"/></clipPath><clipPath id="co"><rect x="825.5" y="860" width="1871" height="192"/></clipPath></defs>
<path d="M826.0 625.90H2695.0" stroke="#e2e6eb" stroke-width="1.8"/><path d="M826.0 585.42H2695.0" stroke="#eff1f4" stroke-width="1.3"/><path d="M826.0 544.94H2695.0" stroke="#e2e6eb" stroke-width="1.8"/><path d="M826.0 504.46H2695.0" stroke="#eff1f4" stroke-width="1.3"/><path d="M826.0 463.98H2695.0" stroke="#e2e6eb" stroke-width="1.8"/><path d="M826.0 423.50H2695.0" stroke="#eff1f4" stroke-width="1.3"/><path d="M826.0 383.02H2695.0" stroke="#e2e6eb" stroke-width="1.8"/><path d="M826.0 342.54H2695.0" stroke="#eff1f4" stroke-width="1.3"/><path d="M826.0 302.06H2695.0" stroke="#e2e6eb" stroke-width="1.8"/><path d="M826.0 261.58H2695.0" stroke="#eff1f4" stroke-width="1.3"/><path d="M826.0 221.10H2695.0" stroke="#e2e6eb" stroke-width="1.8"/><path d="M826.0 180.62H2695.0" stroke="#eff1f4" stroke-width="1.3"/>
<path d="M837.20 180.6V625.9M850.84 180.6V625.9M864.48 180.6V625.9M878.12 180.6V625.9M891.76 180.6V625.9M905.40 180.6V625.9M919.04 180.6V625.9M932.68 180.6V625.9M946.32 180.6V625.9M959.96 180.6V625.9M973.60 180.6V625.9M987.24 180.6V625.9M1000.88 180.6V625.9M1014.52 180.6V625.9M1028.16 180.6V625.9M1041.80 180.6V625.9M1055.44 180.6V625.9M1069.08 180.6V625.9M1082.72 180.6V625.9M1096.36 180.6V625.9M1110.00 180.6V625.9M1123.64 180.6V625.9M1137.28 180.6V625.9M1150.92 180.6V625.9M1164.56 180.6V625.9M1178.20 180.6V625.9M1191.84 180.6V625.9M1205.48 180.6V625.9M1219.12 180.6V625.9M1232.76 180.6V625.9M1246.40 180.6V625.9M1260.04 180.6V625.9M1273.68 180.6V625.9M1287.32 180.6V625.9M1300.96 180.6V625.9M1314.60 180.6V625.9M1328.24 180.6V625.9M1341.88 180.6V625.9M1355.52 180.6V625.9M1369.16 180.6V625.9M1382.80 180.6V625.9M1396.44 180.6V625.9M1410.08 180.6V625.9M1423.72 180.6V625.9M1437.36 180.6V625.9M1451.00 180.6V625.9M1464.64 180.6V625.9M1478.28 180.6V625.9M1491.92 180.6V625.9M1505.56 180.6V625.9M1519.20 180.6V625.9M1532.84 180.6V625.9M1546.48 180.6V625.9M1560.12 180.6V625.9M1573.76 180.6V625.9M1587.40 180.6V625.9M1601.04 180.6V625.9M1614.68 180.6V625.9M1628.32 180.6V625.9M1641.96 180.6V625.9M1655.60 180.6V625.9M1669.24 180.6V625.9M1682.88 180.6V625.9M1696.52 180.6V625.9M1710.16 180.6V625.9M1723.80 180.6V625.9M1737.44 180.6V625.9M1751.08 180.6V625.9M1764.72 180.6V625.9M1778.36 180.6V625.9M1792.00 180.6V625.9M1805.64 180.6V625.9M1819.28 180.6V625.9M1832.92 180.6V625.9M1846.56 180.6V625.9M1860.20 180.6V625.9M1873.84 180.6V625.9M1887.48 180.6V625.9M1901.12 180.6V625.9M1914.76 180.6V625.9M1928.40 180.6V625.9M1942.04 180.6V625.9M1955.68 180.6V625.9M1969.32 180.6V625.9M1982.96 180.6V625.9M1996.60 180.6V625.9M2010.24 180.6V625.9M2023.88 180.6V625.9M2037.52 180.6V625.9M2051.16 180.6V625.9M2064.80 180.6V625.9M2078.44 180.6V625.9M2092.08 180.6V625.9M2105.72 180.6V625.9M2119.36 180.6V625.9M2133.00 180.6V625.9M2146.64 180.6V625.9M2160.28 180.6V625.9M2173.92 180.6V625.9M2187.56 180.6V625.9M2201.20 180.6V625.9M2214.84 180.6V625.9M2228.48 180.6V625.9M2242.12 180.6V625.9M2255.76 180.6V625.9M2269.40 180.6V625.9M2283.04 180.6V625.9M2296.68 180.6V625.9M2310.32 180.6V625.9M2323.96 180.6V625.9M2337.60 180.6V625.9M2351.24 180.6V625.9M2364.88 180.6V625.9M2378.52 180.6V625.9M2392.16 180.6V625.9M2405.80 180.6V625.9M2419.44 180.6V625.9M2433.08 180.6V625.9M2446.72 180.6V625.9M2460.36 180.6V625.9M2474.00 180.6V625.9M2487.64 180.6V625.9M2501.28 180.6V625.9M2514.92 180.6V625.9M2528.56 180.6V625.9M2542.20 180.6V625.9M2555.84 180.6V625.9M2569.48 180.6V625.9M2583.12 180.6V625.9M2596.76 180.6V625.9M2610.40 180.6V625.9M2624.04 180.6V625.9M2637.68 180.6V625.9M2651.32 180.6V625.9M2664.96 180.6V625.9M2678.60 180.6V625.9M2692.24 180.6V625.9" stroke="#e0e5eb" stroke-width="1.2" fill="none"/>
<path d="M826.0 221.40H2695.0" stroke="#fa141e" stroke-opacity="0.42" stroke-width="3.8"/>
<path d="M826.0 261.88H2695.0" stroke="#fafa0f" stroke-opacity="0.42" stroke-width="3.8"/>
<path d="M826.0 585.72H2695.0" stroke="#fafa0f" stroke-opacity="0.42" stroke-width="3.8"/>
<path d="M826.0 625.30H2695.0" stroke="#fa141e" stroke-opacity="0.42" stroke-width="2.8"/>
<text x="812.5" y="630.1" font-size="14.1" fill="#6b6b6b" text-anchor="end">0.0000</text>
<text x="812.5" y="549.1" font-size="14.1" fill="#6b6b6b" text-anchor="end">20.0000</text>
<text x="812.5" y="468.2" font-size="14.1" fill="#6b6b6b" text-anchor="end">40.0000</text>
<text x="812.5" y="387.2" font-size="14.1" fill="#6b6b6b" text-anchor="end">60.0000</text>
<text x="812.5" y="306.3" font-size="14.1" fill="#6b6b6b" text-anchor="end">80.0000</text>
<text x="812.5" y="225.3" font-size="14.1" fill="#6b6b6b" text-anchor="end">100.0000</text>
<text transform="translate(740.4 403.6) rotate(-90)" font-size="14.9" fill="#666" text-anchor="middle">Thickness Average (nm)</text>
<text x="1765" y="845.5" font-size="14.8" fill="#666" text-anchor="middle">Timestamp / Unit ID</text>
<text transform="translate(855.24 636.2) rotate(-90)" font-size="12.60" letter-spacing="-0.422" fill="#636363" text-anchor="end">23-JUN-2024 20:10:14, SFT8423...</text><text transform="translate(882.52 636.2) rotate(-90)" font-size="12.60" letter-spacing="-0.422" fill="#636363" text-anchor="end">24-JUN-2024 02:32:26, SFT8423...</text><text transform="translate(909.80 636.2) rotate(-90)" font-size="12.60" letter-spacing="-0.422" fill="#636363" text-anchor="end">24-JUN-2024 05:17:03, SFT8423...</text><text transform="translate(937.08 636.2) rotate(-90)" font-size="12.60" letter-spacing="-0.422" fill="#636363" text-anchor="end">24-JUN-2024 22:26:41, SFT8423...</text><text transform="translate(964.36 636.2) rotate(-90)" font-size="12.60" letter-spacing="-0.422" fill="#636363" text-anchor="end">25-JUN-2024 08:46:49, SFT8423...</text><text transform="translate(991.64 636.2) rotate(-90)" font-size="12.60" letter-spacing="-0.422" fill="#636363" text-anchor="end">25-JUN-2024 08:58:41, SFT8423...</text><text transform="translate(1018.92 636.2) rotate(-90)" font-size="12.60" letter-spacing="-0.422" fill="#636363" text-anchor="end">25-JUN-2024 23:49:08, SFT8423...</text><text transform="translate(1046.20 636.2) rotate(-90)" font-size="12.60" letter-spacing="-0.422" fill="#636363" text-anchor="end">26-JUN-2024 00:24:48, SFT8423...</text><text transform="translate(1073.48 636.2) rotate(-90)" font-size="12.60" letter-spacing="-0.422" fill="#636363" text-anchor="end">26-JUN-2024 01:55:55, SFT8423...</text><text transform="translate(1100.76 636.2) rotate(-90)" font-size="12.60" letter-spacing="-0.422" fill="#636363" text-anchor="end">26-JUN-2024 22:53:05, SFT8423...</text><text transform="translate(1128.04 636.2) rotate(-90)" font-size="12.60" letter-spacing="-0.422" fill="#636363" text-anchor="end">27-JUN-2024 03:12:08, SFT8423...</text><text transform="translate(1155.32 636.2) rotate(-90)" font-size="12.60" letter-spacing="-0.422" fill="#636363" text-anchor="end">27-JUN-2024 03:30:20, SFT8423...</text><text transform="translate(1182.60 636.2) rotate(-90)" font-size="12.60" letter-spacing="-0.422" fill="#636363" text-anchor="end">27-JUN-2024 06:03:01, SFT8423...</text><text transform="translate(1209.88 636.2) rotate(-90)" font-size="12.60" letter-spacing="-0.422" fill="#636363" text-anchor="end">28-JUN-2024 03:24:50, SFT8423...</text><text transform="translate(1237.16 636.2) rotate(-90)" font-size="12.60" letter-spacing="-0.422" fill="#636363" text-anchor="end">28-JUN-2024 07:38:10, SFT8423...</text><text transform="translate(1264.44 636.2) rotate(-90)" font-size="12.60" letter-spacing="-0.422" fill="#636363" text-anchor="end">28-JUN-2024 10:25:52, SFT8423...</text><text transform="translate(1291.72 636.2) rotate(-90)" font-size="12.60" letter-spacing="-0.422" fill="#636363" text-anchor="end">28-JUN-2024 15:32:08, SFT8423...</text><text transform="translate(1319.00 636.2) rotate(-90)" font-size="12.60" letter-spacing="-0.422" fill="#636363" text-anchor="end">29-JUN-2024 04:00:27, SFT8423...</text><text transform="translate(1346.28 636.2) rotate(-90)" font-size="12.60" letter-spacing="-0.393" fill="#636363" text-anchor="end">29-JUN-2024 11:54:30, SFT8423...</text><text transform="translate(1373.56 636.2) rotate(-90)" font-size="12.60" letter-spacing="-0.422" fill="#636363" text-anchor="end">29-JUN-2024 17:14:54, SFT8423...</text><text transform="translate(1400.84 636.2) rotate(-90)" font-size="12.60" letter-spacing="-0.422" fill="#636363" text-anchor="end">30-JUN-2024 06:10:02, SFT8423...</text><text transform="translate(1428.12 636.2) rotate(-90)" font-size="12.60" letter-spacing="-0.422" fill="#636363" text-anchor="end">30-JUN-2024 14:59:06, SFT8423...</text><text transform="translate(1455.40 636.2) rotate(-90)" font-size="12.60" letter-spacing="-0.422" fill="#636363" text-anchor="end">30-JUN-2024 19:12:42, SFT8423...</text><text transform="translate(1482.68 636.2) rotate(-90)" font-size="12.60" letter-spacing="-0.422" fill="#636363" text-anchor="end">30-JUN-2024 20:52:46, SFT8423...</text><text transform="translate(1509.96 636.2) rotate(-90)" font-size="12.60" letter-spacing="-0.477" fill="#636363" text-anchor="end">01-JUL-2024 07:51:45, SFT84231...</text><text transform="translate(1537.24 636.2) rotate(-90)" font-size="12.60" letter-spacing="-0.477" fill="#636363" text-anchor="end">01-JUL-2024 17:07:48, SFT84231...</text><text transform="translate(1564.52 636.2) rotate(-90)" font-size="12.60" letter-spacing="-0.477" fill="#636363" text-anchor="end">02-JUL-2024 03:49:20, SFT84231...</text><text transform="translate(1591.80 636.2) rotate(-90)" font-size="12.60" letter-spacing="-0.477" fill="#636363" text-anchor="end">02-JUL-2024 06:24:20, SFT84231...</text><text transform="translate(1619.08 636.2) rotate(-90)" font-size="12.60" letter-spacing="-0.448" fill="#636363" text-anchor="end">02-JUL-2024 20:11:31, SFT84231...</text><text transform="translate(1646.36 636.2) rotate(-90)" font-size="12.60" letter-spacing="-0.477" fill="#636363" text-anchor="end">03-JUL-2024 02:53:01, SFT84231...</text><text transform="translate(1673.64 636.2) rotate(-90)" font-size="12.60" letter-spacing="-0.477" fill="#636363" text-anchor="end">03-JUL-2024 09:20:17, SFT84231...</text><text transform="translate(1700.92 636.2) rotate(-90)" font-size="12.60" letter-spacing="-0.477" fill="#636363" text-anchor="end">03-JUL-2024 19:36:12, SFT84231...</text><text transform="translate(1728.20 636.2) rotate(-90)" font-size="12.60" letter-spacing="-0.477" fill="#636363" text-anchor="end">04-JUL-2024 01:34:42, SFT84231...</text><text transform="translate(1755.48 636.2) rotate(-90)" font-size="12.60" letter-spacing="-0.477" fill="#636363" text-anchor="end">04-JUL-2024 12:20:56, SFT84231...</text><text transform="translate(1782.76 636.2) rotate(-90)" font-size="12.60" letter-spacing="-0.477" fill="#636363" text-anchor="end">04-JUL-2024 22:59:43, SFT84231...</text><text transform="translate(1810.04 636.2) rotate(-90)" font-size="12.60" letter-spacing="-0.477" fill="#636363" text-anchor="end">05-JUL-2024 03:04:17, SFT84231...</text><text transform="translate(1837.32 636.2) rotate(-90)" font-size="12.60" letter-spacing="-0.477" fill="#636363" text-anchor="end">05-JUL-2024 14:40:49, SFT84231...</text><text transform="translate(1864.60 636.2) rotate(-90)" font-size="12.60" letter-spacing="-0.477" fill="#636363" text-anchor="end">05-JUL-2024 22:33:13, SFT84231...</text><text transform="translate(1891.88 636.2) rotate(-90)" font-size="12.60" letter-spacing="-0.477" fill="#636363" text-anchor="end">06-JUL-2024 02:03:00, SFT84231...</text><text transform="translate(1919.16 636.2) rotate(-90)" font-size="12.60" letter-spacing="-0.477" fill="#636363" text-anchor="end">06-JUL-2024 14:32:31, SFT84231...</text><text transform="translate(1946.44 636.2) rotate(-90)" font-size="12.60" letter-spacing="-0.477" fill="#636363" text-anchor="end">07-JUL-2024 02:24:55, SFT84231...</text><text transform="translate(1973.72 636.2) rotate(-90)" font-size="12.60" letter-spacing="-0.477" fill="#636363" text-anchor="end">07-JUL-2024 03:52:41, SFT84231...</text><text transform="translate(2001.00 636.2) rotate(-90)" font-size="12.60" letter-spacing="-0.477" fill="#636363" text-anchor="end">07-JUL-2024 12:36:10, SFT84231...</text><text transform="translate(2028.28 636.2) rotate(-90)" font-size="12.60" letter-spacing="-0.477" fill="#636363" text-anchor="end">07-JUL-2024 19:48:33, SFT84231...</text><text transform="translate(2055.56 636.2) rotate(-90)" font-size="12.60" letter-spacing="-0.477" fill="#636363" text-anchor="end">07-JUL-2024 20:38:01, SFT84231...</text><text transform="translate(2082.84 636.2) rotate(-90)" font-size="12.60" letter-spacing="-0.477" fill="#636363" text-anchor="end">08-JUL-2024 03:17:26, SFT84231...</text><text transform="translate(2110.12 636.2) rotate(-90)" font-size="12.60" letter-spacing="-0.477" fill="#636363" text-anchor="end">08-JUL-2024 18:31:18, SFT84231...</text><text transform="translate(2137.40 636.2) rotate(-90)" font-size="12.60" letter-spacing="-0.477" fill="#636363" text-anchor="end">08-JUL-2024 22:59:50, SFT84231...</text><text transform="translate(2164.68 636.2) rotate(-90)" font-size="12.60" letter-spacing="-0.477" fill="#636363" text-anchor="end">09-JUL-2024 07:59:13, SFT84231...</text><text transform="translate(2191.96 636.2) rotate(-90)" font-size="12.60" letter-spacing="-0.477" fill="#636363" text-anchor="end">09-JUL-2024 20:18:05, SFT84231...</text><text transform="translate(2219.24 636.2) rotate(-90)" font-size="12.60" letter-spacing="-0.477" fill="#636363" text-anchor="end">10-JUL-2024 08:52:00, SFT84231...</text><text transform="translate(2246.52 636.2) rotate(-90)" font-size="12.60" letter-spacing="-0.477" fill="#636363" text-anchor="end">10-JUL-2024 09:20:00, SFT84231...</text><text transform="translate(2273.80 636.2) rotate(-90)" font-size="12.60" letter-spacing="-0.477" fill="#636363" text-anchor="end">10-JUL-2024 09:29:45, SFT84231...</text><text transform="translate(2301.08 636.2) rotate(-90)" font-size="12.60" letter-spacing="-0.477" fill="#636363" text-anchor="end">10-JUL-2024 10:24:44, SFT84231...</text><text transform="translate(2328.36 636.2) rotate(-90)" font-size="12.60" letter-spacing="-0.448" fill="#636363" text-anchor="end">11-JUL-2024 09:31:57, SFT84231...</text><text transform="translate(2355.64 636.2) rotate(-90)" font-size="12.60" letter-spacing="-0.448" fill="#636363" text-anchor="end">11-JUL-2024 09:50:48, SFT84231...</text><text transform="translate(2382.92 636.2) rotate(-90)" font-size="12.60" letter-spacing="-0.448" fill="#636363" text-anchor="end">11-JUL-2024 10:09:50, SFT84231...</text><text transform="translate(2410.20 636.2) rotate(-90)" font-size="12.60" letter-spacing="-0.420" fill="#636363" text-anchor="end">11-JUL-2024 11:53:05, SFT84231...</text><text transform="translate(2437.48 636.2) rotate(-90)" font-size="12.60" letter-spacing="-0.477" fill="#636363" text-anchor="end">12-JUL-2024 13:08:05, SFT84231...</text><text transform="translate(2464.76 636.2) rotate(-90)" font-size="12.60" letter-spacing="-0.477" fill="#636363" text-anchor="end">12-JUL-2024 13:33:01, SFT84231...</text><text transform="translate(2492.04 636.2) rotate(-90)" font-size="12.60" letter-spacing="-0.477" fill="#636363" text-anchor="end">12-JUL-2024 13:34:20, SFT84231...</text><text transform="translate(2519.32 636.2) rotate(-90)" font-size="12.60" letter-spacing="-0.477" fill="#636363" text-anchor="end">12-JUL-2024 13:36:45, SFT84231...</text><text transform="translate(2546.60 636.2) rotate(-90)" font-size="12.60" letter-spacing="-0.477" fill="#636363" text-anchor="end">13-JUL-2024 12:48:59, SFT84231...</text><text transform="translate(2573.88 636.2) rotate(-90)" font-size="12.60" letter-spacing="-0.477" fill="#636363" text-anchor="end">13-JUL-2024 13:13:37, SFT84231...</text><text transform="translate(2601.16 636.2) rotate(-90)" font-size="12.60" letter-spacing="-0.477" fill="#636363" text-anchor="end">13-JUL-2024 13:14:33, SFT84231...</text><text transform="translate(2628.44 636.2) rotate(-90)" font-size="12.60" letter-spacing="-0.477" fill="#636363" text-anchor="end">13-JUL-2024 15:10:51, SFT84231...</text><text transform="translate(2655.72 636.2) rotate(-90)" font-size="12.60" letter-spacing="-0.477" fill="#636363" text-anchor="end">13-JUL-2024 23:43:21, SFT84231...</text><text transform="translate(2683.00 636.2) rotate(-90)" font-size="12.60" letter-spacing="-0.477" fill="#636363" text-anchor="end">14-JUL-2024 12:03:18, SFT84231...</text>
<g clip-path="url(#cp)"><path d="M823.56 411.36 L837.20 415.40 L850.84 431.60 L864.48 427.55 L878.12 391.12 L891.76 463.98 L905.40 411.36 L919.04 391.12 L932.68 447.79 L946.32 423.50 L959.96 407.31 L973.60 463.98 L987.24 415.40 L1000.88 439.69 L1014.52 439.69 L1028.16 391.12 L1041.80 447.79 L1055.44 431.60 L1069.08 419.45 L1082.72 459.93 L1096.36 423.50 L1110.00 407.31 L1123.64 427.55 L1137.28 431.60 L1150.92 407.31 L1164.56 427.55 L1178.20 399.21 L1191.84 463.98 L1205.48 427.55 L1219.12 419.45 L1232.76 439.69 L1246.40 387.07 L1260.04 391.12 L1273.68 423.50 L1287.32 419.45 L1300.96 423.50 L1314.60 391.12 L1328.24 395.16 L1341.88 447.79 L1355.52 387.07 L1369.16 411.36 L1382.80 399.21 L1396.44 447.79 L1410.08 443.74 L1423.72 407.31 L1437.36 455.88 L1451.00 447.79 L1464.64 403.26 L1478.28 427.55 L1491.92 399.21 L1505.56 459.93 L1519.20 411.36 L1532.84 427.55 L1546.48 463.98 L1560.12 447.79 L1573.76 427.55 L1587.40 431.60 L1601.04 403.26 L1614.68 427.55 L1628.32 451.84 L1641.96 391.12 L1655.60 455.88 L1669.24 439.69 L1682.88 391.12 L1696.52 427.55 L1710.16 443.74 L1723.80 391.12 L1737.44 447.79 L1751.08 459.93 L1764.72 427.55 L1778.36 451.84 L1792.00 411.36 L1805.64 411.36 L1819.28 439.69 L1832.92 451.84 L1846.56 455.88 L1860.20 459.93 L1873.84 403.26 L1887.48 435.64 L1901.12 439.69 L1914.76 403.26 L1928.40 455.88 L1942.04 403.26 L1955.68 459.93 L1969.32 463.98 L1982.96 463.98 L1996.60 399.21 L2010.24 451.84 L2023.88 399.21 L2037.52 423.50 L2051.16 427.55 L2064.80 399.21 L2078.44 455.88 L2092.08 419.45 L2105.72 451.84 L2119.36 447.79 L2133.00 423.50 L2146.64 435.64 L2160.28 431.60 L2173.92 419.45 L2187.56 423.50 L2201.20 407.31 L2214.84 415.40 L2228.48 391.12 L2242.12 463.98 L2255.76 423.50 L2269.40 451.84 L2283.04 435.64 L2296.68 403.26 L2310.32 399.21 L2323.96 391.12 L2337.60 431.60 L2351.24 431.60 L2364.88 423.50 L2378.52 451.84 L2392.16 415.40 L2405.80 407.31 L2419.44 443.74 L2433.08 459.93 L2446.72 427.55 L2460.36 431.60 L2474.00 415.40 L2487.64 447.79 L2501.28 423.50 L2514.92 399.21 L2528.56 463.98 L2542.20 435.64 L2555.84 463.98 L2569.48 439.69 L2583.12 443.74 L2596.76 427.55 L2610.40 447.79 L2624.04 427.55 L2637.68 455.88 L2651.32 431.60 L2664.96 403.26 L2678.60 395.16 L2692.24 431.60" fill="none" stroke="#0000ff" stroke-width="3.7" stroke-linejoin="round"/>
<g fill="#0000ff" stroke="#fff" stroke-width="0.9"><circle cx="837.20" cy="415.40" r="5.7"/><circle cx="850.84" cy="431.60" r="5.7"/><circle cx="864.48" cy="427.55" r="5.7"/><circle cx="878.12" cy="391.12" r="5.7"/><circle cx="891.76" cy="463.98" r="5.7"/><circle cx="905.40" cy="411.36" r="5.7"/><circle cx="919.04" cy="391.12" r="5.7"/><circle cx="932.68" cy="447.79" r="5.7"/><circle cx="946.32" cy="423.50" r="5.7"/><circle cx="959.96" cy="407.31" r="5.7"/><circle cx="973.60" cy="463.98" r="5.7"/><circle cx="987.24" cy="415.40" r="5.7"/><circle cx="1000.88" cy="439.69" r="5.7"/><circle cx="1014.52" cy="439.69" r="5.7"/><circle cx="1028.16" cy="391.12" r="5.7"/><circle cx="1041.80" cy="447.79" r="5.7"/><circle cx="1055.44" cy="431.60" r="5.7"/><circle cx="1069.08" cy="419.45" r="5.7"/><circle cx="1082.72" cy="459.93" r="5.7"/><circle cx="1096.36" cy="423.50" r="5.7"/><circle cx="1110.00" cy="407.31" r="5.7"/><circle cx="1123.64" cy="427.55" r="5.7"/><circle cx="1137.28" cy="431.60" r="5.7"/><circle cx="1150.92" cy="407.31" r="5.7"/><circle cx="1164.56" cy="427.55" r="5.7"/><circle cx="1178.20" cy="399.21" r="5.7"/><circle cx="1191.84" cy="463.98" r="5.7"/><circle cx="1205.48" cy="427.55" r="5.7"/><circle cx="1219.12" cy="419.45" r="5.7"/><circle cx="1232.76" cy="439.69" r="5.7"/><circle cx="1246.40" cy="387.07" r="5.7"/><circle cx="1260.04" cy="391.12" r="5.7"/><circle cx="1273.68" cy="423.50" r="5.7"/><circle cx="1287.32" cy="419.45" r="5.7"/><circle cx="1300.96" cy="423.50" r="5.7"/><circle cx="1314.60" cy="391.12" r="5.7"/><circle cx="1328.24" cy="395.16" r="5.7"/><circle cx="1341.88" cy="447.79" r="5.7"/><circle cx="1355.52" cy="387.07" r="5.7"/><circle cx="1369.16" cy="411.36" r="5.7"/><circle cx="1382.80" cy="399.21" r="5.7"/><circle cx="1396.44" cy="447.79" r="5.7"/><circle cx="1410.08" cy="443.74" r="5.7"/><circle cx="1423.72" cy="407.31" r="5.7"/><circle cx="1437.36" cy="455.88" r="5.7"/><circle cx="1451.00" cy="447.79" r="5.7"/><circle cx="1464.64" cy="403.26" r="5.7"/><circle cx="1478.28" cy="427.55" r="5.7"/><circle cx="1491.92" cy="399.21" r="5.7"/><circle cx="1505.56" cy="459.93" r="5.7"/><circle cx="1519.20" cy="411.36" r="5.7"/><circle cx="1532.84" cy="427.55" r="5.7"/><circle cx="1546.48" cy="463.98" r="5.7"/><circle cx="1560.12" cy="447.79" r="5.7"/><circle cx="1573.76" cy="427.55" r="5.7"/><circle cx="1587.40" cy="431.60" r="5.7"/><circle cx="1601.04" cy="403.26" r="5.7"/><circle cx="1614.68" cy="427.55" r="5.7"/><circle cx="1628.32" cy="451.84" r="5.7"/><circle cx="1641.96" cy="391.12" r="5.7"/><circle cx="1655.60" cy="455.88" r="5.7"/><circle cx="1669.24" cy="439.69" r="5.7"/><circle cx="1682.88" cy="391.12" r="5.7"/><circle cx="1696.52" cy="427.55" r="5.7"/><circle cx="1710.16" cy="443.74" r="5.7"/><circle cx="1723.80" cy="391.12" r="5.7"/><circle cx="1737.44" cy="447.79" r="5.7"/><circle cx="1751.08" cy="459.93" r="5.7"/><circle cx="1764.72" cy="427.55" r="5.7"/><circle cx="1778.36" cy="451.84" r="5.7"/><circle cx="1792.00" cy="411.36" r="5.7"/><circle cx="1805.64" cy="411.36" r="5.7"/><circle cx="1819.28" cy="439.69" r="5.7"/><circle cx="1832.92" cy="451.84" r="5.7"/><circle cx="1846.56" cy="455.88" r="5.7"/><circle cx="1860.20" cy="459.93" r="5.7"/><circle cx="1873.84" cy="403.26" r="5.7"/><circle cx="1887.48" cy="435.64" r="5.7"/><circle cx="1901.12" cy="439.69" r="5.7"/><circle cx="1914.76" cy="403.26" r="5.7"/><circle cx="1928.40" cy="455.88" r="5.7"/><circle cx="1942.04" cy="403.26" r="5.7"/><circle cx="1955.68" cy="459.93" r="5.7"/><circle cx="1969.32" cy="463.98" r="5.7"/><circle cx="1982.96" cy="463.98" r="5.7"/><circle cx="1996.60" cy="399.21" r="5.7"/><circle cx="2010.24" cy="451.84" r="5.7"/><circle cx="2023.88" cy="399.21" r="5.7"/><circle cx="2037.52" cy="423.50" r="5.7"/><circle cx="2051.16" cy="427.55" r="5.7"/><circle cx="2064.80" cy="399.21" r="5.7"/><circle cx="2078.44" cy="455.88" r="5.7"/><circle cx="2092.08" cy="419.45" r="5.7"/><circle cx="2105.72" cy="451.84" r="5.7"/><circle cx="2119.36" cy="447.79" r="5.7"/><circle cx="2133.00" cy="423.50" r="5.7"/><circle cx="2146.64" cy="435.64" r="5.7"/><circle cx="2160.28" cy="431.60" r="5.7"/><circle cx="2173.92" cy="419.45" r="5.7"/><circle cx="2187.56" cy="423.50" r="5.7"/><circle cx="2201.20" cy="407.31" r="5.7"/><circle cx="2214.84" cy="415.40" r="5.7"/><circle cx="2228.48" cy="391.12" r="5.7"/><circle cx="2242.12" cy="463.98" r="5.7"/><circle cx="2255.76" cy="423.50" r="5.7"/><circle cx="2269.40" cy="451.84" r="5.7"/><circle cx="2283.04" cy="435.64" r="5.7"/><circle cx="2296.68" cy="403.26" r="5.7"/><circle cx="2310.32" cy="399.21" r="5.7"/><circle cx="2323.96" cy="391.12" r="5.7"/><circle cx="2337.60" cy="431.60" r="5.7"/><circle cx="2351.24" cy="431.60" r="5.7"/><circle cx="2364.88" cy="423.50" r="5.7"/><circle cx="2378.52" cy="451.84" r="5.7"/><circle cx="2392.16" cy="415.40" r="5.7"/><circle cx="2405.80" cy="407.31" r="5.7"/><circle cx="2419.44" cy="443.74" r="5.7"/><circle cx="2433.08" cy="459.93" r="5.7"/><circle cx="2446.72" cy="427.55" r="5.7"/><circle cx="2460.36" cy="431.60" r="5.7"/><circle cx="2474.00" cy="415.40" r="5.7"/><circle cx="2487.64" cy="447.79" r="5.7"/><circle cx="2501.28" cy="423.50" r="5.7"/><circle cx="2514.92" cy="399.21" r="5.7"/><circle cx="2528.56" cy="463.98" r="5.7"/><circle cx="2542.20" cy="435.64" r="5.7"/><circle cx="2555.84" cy="463.98" r="5.7"/><circle cx="2569.48" cy="439.69" r="5.7"/><circle cx="2583.12" cy="443.74" r="5.7"/><circle cx="2596.76" cy="427.55" r="5.7"/><circle cx="2610.40" cy="447.79" r="5.7"/><circle cx="2624.04" cy="427.55" r="5.7"/><circle cx="2637.68" cy="455.88" r="5.7"/><circle cx="2651.32" cy="431.60" r="5.7"/><circle cx="2664.96" cy="403.26" r="5.7"/><circle cx="2678.60" cy="395.16" r="5.7"/><circle cx="2692.24" cy="431.60" r="5.7"/></g>
</g>
<rect x="825.5" y="862.0" width="1869.5" height="186.6" fill="#fff"/>
<path d="M827.02 862.0V1048.6M830.06 862.0V1048.6M833.10 862.0V1048.6M836.14 862.0V1048.6M839.18 862.0V1048.6M842.22 862.0V1048.6M845.26 862.0V1048.6M848.30 862.0V1048.6M851.34 862.0V1048.6M854.38 862.0V1048.6M857.42 862.0V1048.6M860.46 862.0V1048.6M863.50 862.0V1048.6M866.54 862.0V1048.6M869.58 862.0V1048.6M872.62 862.0V1048.6M875.66 862.0V1048.6M878.70 862.0V1048.6M881.74 862.0V1048.6M884.78 862.0V1048.6M887.82 862.0V1048.6M890.86 862.0V1048.6M893.90 862.0V1048.6M896.94 862.0V1048.6M899.98 862.0V1048.6M903.02 862.0V1048.6M906.06 862.0V1048.6M909.10 862.0V1048.6M912.14 862.0V1048.6M915.18 862.0V1048.6M918.22 862.0V1048.6M921.25 862.0V1048.6M924.29 862.0V1048.6M927.33 862.0V1048.6M930.37 862.0V1048.6M933.41 862.0V1048.6M936.45 862.0V1048.6M939.49 862.0V1048.6M942.53 862.0V1048.6M945.57 862.0V1048.6M948.61 862.0V1048.6M951.65 862.0V1048.6M954.69 862.0V1048.6M957.73 862.0V1048.6M960.77 862.0V1048.6M963.81 862.0V1048.6M966.85 862.0V1048.6M969.89 862.0V1048.6M972.93 862.0V1048.6M975.97 862.0V1048.6M979.01 862.0V1048.6M982.05 862.0V1048.6M985.09 862.0V1048.6M988.13 862.0V1048.6M991.17 862.0V1048.6M994.21 862.0V1048.6M997.25 862.0V1048.6M1000.29 862.0V1048.6M1003.33 862.0V1048.6M1006.37 862.0V1048.6M1009.41 862.0V1048.6M1012.45 862.0V1048.6M1015.49 862.0V1048.6M1018.53 862.0V1048.6M1021.57 862.0V1048.6M1024.61 862.0V1048.6M1027.65 862.0V1048.6M1030.69 862.0V1048.6M1033.73 862.0V1048.6M1036.77 862.0V1048.6M1039.81 862.0V1048.6M1042.85 862.0V1048.6M1045.89 862.0V1048.6M1048.93 862.0V1048.6M1051.97 862.0V1048.6M1055.01 862.0V1048.6M1058.05 862.0V1048.6M1061.09 862.0V1048.6M1064.13 862.0V1048.6M1067.17 862.0V1048.6M1070.21 862.0V1048.6M1073.25 862.0V1048.6M1076.29 862.0V1048.6M1079.33 862.0V1048.6M1082.37 862.0V1048.6M1085.41 862.0V1048.6M1088.45 862.0V1048.6M1091.49 862.0V1048.6M1094.53 862.0V1048.6M1097.57 862.0V1048.6M1100.61 862.0V1048.6M1103.65 862.0V1048.6M1106.68 862.0V1048.6M1109.72 862.0V1048.6M1112.76 862.0V1048.6M1115.80 862.0V1048.6M1118.84 862.0V1048.6M1121.88 862.0V1048.6M1124.92 862.0V1048.6M1127.96 862.0V1048.6M1131.00 862.0V1048.6M1134.04 862.0V1048.6M1137.08 862.0V1048.6M1140.12 862.0V1048.6M1143.16 862.0V1048.6M1146.20 862.0V1048.6M1149.24 862.0V1048.6M1152.28 862.0V1048.6M1155.32 862.0V1048.6M1158.36 862.0V1048.6M1161.40 862.0V1048.6M1164.44 862.0V1048.6M1167.48 862.0V1048.6M1170.52 862.0V1048.6M1173.56 862.0V1048.6M1176.60 862.0V1048.6M1179.64 862.0V1048.6M1182.68 862.0V1048.6M1185.72 862.0V1048.6M1188.76 862.0V1048.6M1191.80 862.0V1048.6M1194.84 862.0V1048.6M1197.88 862.0V1048.6M1200.92 862.0V1048.6M1203.96 862.0V1048.6M1207.00 862.0V1048.6M1210.04 862.0V1048.6M1213.08 862.0V1048.6M1216.12 862.0V1048.6M1219.16 862.0V1048.6M1222.20 862.0V1048.6M1225.24 862.0V1048.6M1228.28 862.0V1048.6M1231.32 862.0V1048.6M1234.36 862.0V1048.6M1237.40 862.0V1048.6M1240.44 862.0V1048.6M1243.48 862.0V1048.6M1246.52 862.0V1048.6M1249.56 862.0V1048.6M1252.60 862.0V1048.6M1255.64 862.0V1048.6M1258.68 862.0V1048.6M1261.72 862.0V1048.6M1264.76 862.0V1048.6M1267.80 862.0V1048.6M1270.84 862.0V1048.6M1273.88 862.0V1048.6M1276.92 862.0V1048.6M1279.96 862.0V1048.6M1283.00 862.0V1048.6M1286.04 862.0V1048.6M1289.08 862.0V1048.6M1292.12 862.0V1048.6M1295.15 862.0V1048.6M1298.19 862.0V1048.6M1301.23 862.0V1048.6M1304.27 862.0V1048.6M1307.31 862.0V1048.6M1310.35 862.0V1048.6M1313.39 862.0V1048.6M1316.43 862.0V1048.6M1319.47 862.0V1048.6M1322.51 862.0V1048.6M1325.55 862.0V1048.6M1328.59 862.0V1048.6M1331.63 862.0V1048.6M1334.67 862.0V1048.6M1337.71 862.0V1048.6M1340.75 862.0V1048.6M1343.79 862.0V1048.6M1346.83 862.0V1048.6M1349.87 862.0V1048.6M1352.91 862.0V1048.6M1355.95 862.0V1048.6M1358.99 862.0V1048.6M1362.03 862.0V1048.6M1365.07 862.0V1048.6M1368.11 862.0V1048.6M1371.15 862.0V1048.6M1374.19 862.0V1048.6M1377.23 862.0V1048.6M1380.27 862.0V1048.6M1383.31 862.0V1048.6M1386.35 862.0V1048.6M1389.39 862.0V1048.6M1392.43 862.0V1048.6M1395.47 862.0V1048.6M1398.51 862.0V1048.6M1401.55 862.0V1048.6M1404.59 862.0V1048.6M1407.63 862.0V1048.6M1410.67 862.0V1048.6M1413.71 862.0V1048.6M1416.75 862.0V1048.6M1419.79 862.0V1048.6M1422.83 862.0V1048.6M1425.87 862.0V1048.6M1428.91 862.0V1048.6M1431.95 862.0V1048.6M1434.99 862.0V1048.6M1438.03 862.0V1048.6M1441.07 862.0V1048.6M1444.11 862.0V1048.6M1447.15 862.0V1048.6M1450.19 862.0V1048.6M1453.23 862.0V1048.6M1456.27 862.0V1048.6M1459.31 862.0V1048.6M1462.35 862.0V1048.6M1465.39 862.0V1048.6M1468.43 862.0V1048.6M1471.47 862.0V1048.6M1474.51 862.0V1048.6M1477.55 862.0V1048.6M1480.58 862.0V1048.6M1483.62 862.0V1048.6M1486.66 862.0V1048.6M1489.70 862.0V1048.6M1492.74 862.0V1048.6M1495.78 862.0V1048.6M1498.82 862.0V1048.6M1501.86 862.0V1048.6M1504.90 862.0V1048.6M1507.94 862.0V1048.6M1510.98 862.0V1048.6M1514.02 862.0V1048.6M1517.06 862.0V1048.6M1520.10 862.0V1048.6M1523.14 862.0V1048.6M1526.18 862.0V1048.6M1529.22 862.0V1048.6M1532.26 862.0V1048.6M1535.30 862.0V1048.6M1538.34 862.0V1048.6M1541.38 862.0V1048.6M1544.42 862.0V1048.6M1547.46 862.0V1048.6M1550.50 862.0V1048.6M1553.54 862.0V1048.6M1556.58 862.0V1048.6M1559.62 862.0V1048.6M1562.66 862.0V1048.6M1565.70 862.0V1048.6M1568.74 862.0V1048.6M1571.78 862.0V1048.6M1574.82 862.0V1048.6M1577.86 862.0V1048.6M1580.90 862.0V1048.6M1583.94 862.0V1048.6M1586.98 862.0V1048.6M1590.02 862.0V1048.6M1593.06 862.0V1048.6M1596.10 862.0V1048.6M1599.14 862.0V1048.6M1602.18 862.0V1048.6M1605.22 862.0V1048.6M1608.26 862.0V1048.6M1611.30 862.0V1048.6M1614.34 862.0V1048.6M1617.38 862.0V1048.6M1620.42 862.0V1048.6M1623.46 862.0V1048.6M1626.50 862.0V1048.6M1629.54 862.0V1048.6M1632.58 862.0V1048.6M1635.62 862.0V1048.6M1638.66 862.0V1048.6M1641.70 862.0V1048.6M1644.74 862.0V1048.6M1647.78 862.0V1048.6M1650.82 862.0V1048.6M1653.86 862.0V1048.6M1656.90 862.0V1048.6M1659.94 862.0V1048.6M1662.98 862.0V1048.6M1666.02 862.0V1048.6M1669.05 862.0V1048.6M1672.09 862.0V1048.6M1675.13 862.0V1048.6M1678.17 862.0V1048.6M1681.21 862.0V1048.6M1684.25 862.0V1048.6M1687.29 862.0V1048.6M1690.33 862.0V1048.6M1693.37 862.0V1048.6M1696.41 862.0V1048.6M1699.45 862.0V1048.6M1702.49 862.0V1048.6M1705.53 862.0V1048.6M1708.57 862.0V1048.6M1711.61 862.0V1048.6M1714.65 862.0V1048.6M1717.69 862.0V1048.6M1720.73 862.0V1048.6M1723.77 862.0V1048.6M1726.81 862.0V1048.6M1729.85 862.0V1048.6M1732.89 862.0V1048.6M1735.93 862.0V1048.6M1738.97 862.0V1048.6M1742.01 862.0V1048.6M1745.05 862.0V1048.6M1748.09 862.0V1048.6M1751.13 862.0V1048.6M1754.17 862.0V1048.6M1757.21 862.0V1048.6M1760.25 862.0V1048.6M1763.29 862.0V1048.6M1766.33 862.0V1048.6M1769.37 862.0V1048.6M1772.41 862.0V1048.6M1775.45 862.0V1048.6M1778.49 862.0V1048.6M1781.53 862.0V1048.6M1784.57 862.0V1048.6M1787.61 862.0V1048.6M1790.65 862.0V1048.6M1793.69 862.0V1048.6M1796.73 862.0V1048.6M1799.77 862.0V1048.6M1802.81 862.0V1048.6M1805.85 862.0V1048.6M1808.89 862.0V1048.6M1811.93 862.0V1048.6M1814.97 862.0V1048.6M1818.01 862.0V1048.6M1821.05 862.0V1048.6M1824.09 862.0V1048.6M1827.13 862.0V1048.6M1830.17 862.0V1048.6M1833.21 862.0V1048.6M1836.25 862.0V1048.6M1839.29 862.0V1048.6M1842.33 862.0V1048.6M1845.37 862.0V1048.6M1848.41 862.0V1048.6M1851.45 862.0V1048.6M1854.48 862.0V1048.6M1857.52 862.0V1048.6M1860.56 862.0V1048.6M1863.60 862.0V1048.6M1866.64 862.0V1048.6M1869.68 862.0V1048.6M1872.72 862.0V1048.6M1875.76 862.0V1048.6M1878.80 862.0V1048.6M1881.84 862.0V1048.6M1884.88 862.0V1048.6M1887.92 862.0V1048.6M1890.96 862.0V1048.6M1894.00 862.0V1048.6M1897.04 862.0V1048.6M1900.08 862.0V1048.6M1903.12 862.0V1048.6M1906.16 862.0V1048.6M1909.20 862.0V1048.6M1912.24 862.0V1048.6M1915.28 862.0V1048.6M1918.32 862.0V1048.6M1921.36 862.0V1048.6M1924.40 862.0V1048.6M1927.44 862.0V1048.6M1930.48 862.0V1048.6M1933.52 862.0V1048.6M1936.56 862.0V1048.6M1939.60 862.0V1048.6M1942.64 862.0V1048.6M1945.68 862.0V1048.6M1948.72 862.0V1048.6M1951.76 862.0V1048.6M1954.80 862.0V1048.6M1957.84 862.0V1048.6M1960.88 862.0V1048.6M1963.92 862.0V1048.6M1966.96 862.0V1048.6M1970.00 862.0V1048.6M1973.04 862.0V1048.6M1976.08 862.0V1048.6M1979.12 862.0V1048.6M1982.16 862.0V1048.6M1985.20 862.0V1048.6M1988.24 862.0V1048.6M1991.28 862.0V1048.6M1994.32 862.0V1048.6M1997.36 862.0V1048.6M2000.40 862.0V1048.6M2003.44 862.0V1048.6M2006.48 862.0V1048.6M2009.52 862.0V1048.6M2012.56 862.0V1048.6M2015.60 862.0V1048.6M2018.64 862.0V1048.6M2021.68 862.0V1048.6M2024.72 862.0V1048.6M2027.76 862.0V1048.6M2030.80 862.0V1048.6M2033.84 862.0V1048.6M2036.88 862.0V1048.6M2039.92 862.0V1048.6M2042.95 862.0V1048.6M2045.99 862.0V1048.6M2049.03 862.0V1048.6M2052.07 862.0V1048.6M2055.11 862.0V1048.6M2058.15 862.0V1048.6M2061.19 862.0V1048.6M2064.23 862.0V1048.6M2067.27 862.0V1048.6M2070.31 862.0V1048.6M2073.35 862.0V1048.6M2076.39 862.0V1048.6M2079.43 862.0V1048.6M2082.47 862.0V1048.6M2085.51 862.0V1048.6M2088.55 862.0V1048.6M2091.59 862.0V1048.6M2094.63 862.0V1048.6M2097.67 862.0V1048.6M2100.71 862.0V1048.6M2103.75 862.0V1048.6M2106.79 862.0V1048.6M2109.83 862.0V1048.6M2112.87 862.0V1048.6M2115.91 862.0V1048.6M2118.95 862.0V1048.6M2121.99 862.0V1048.6M2125.03 862.0V1048.6M2128.07 862.0V1048.6M2131.11 862.0V1048.6M2134.15 862.0V1048.6M2137.19 862.0V1048.6M2140.23 862.0V1048.6M2143.27 862.0V1048.6M2146.31 862.0V1048.6M2149.35 862.0V1048.6M2152.39 862.0V1048.6M2155.43 862.0V1048.6M2158.47 862.0V1048.6M2161.51 862.0V1048.6M2164.55 862.0V1048.6M2167.59 862.0V1048.6M2170.63 862.0V1048.6M2173.67 862.0V1048.6M2176.71 862.0V1048.6M2179.75 862.0V1048.6M2182.79 862.0V1048.6M2185.83 862.0V1048.6M2188.87 862.0V1048.6M2191.91 862.0V1048.6M2194.95 862.0V1048.6M2197.99 862.0V1048.6M2201.03 862.0V1048.6M2204.07 862.0V1048.6M2207.11 862.0V1048.6M2210.15 862.0V1048.6M2213.19 862.0V1048.6M2216.23 862.0V1048.6M2219.27 862.0V1048.6M2222.31 862.0V1048.6M2225.35 862.0V1048.6M2228.38 862.0V1048.6M2231.42 862.0V1048.6M2234.46 862.0V1048.6M2237.50 862.0V1048.6M2240.54 862.0V1048.6M2243.58 862.0V1048.6M2246.62 862.0V1048.6M2249.66 862.0V1048.6M2252.70 862.0V1048.6M2255.74 862.0V1048.6M2258.78 862.0V1048.6M2261.82 862.0V1048.6M2264.86 862.0V1048.6M2267.90 862.0V1048.6M2270.94 862.0V1048.6M2273.98 862.0V1048.6M2277.02 862.0V1048.6M2280.06 862.0V1048.6M2283.10 862.0V1048.6M2286.14 862.0V1048.6M2289.18 862.0V1048.6M2292.22 862.0V1048.6M2295.26 862.0V1048.6M2298.30 862.0V1048.6M2301.34 862.0V1048.6M2304.38 862.0V1048.6M2307.42 862.0V1048.6M2310.46 862.0V1048.6M2313.50 862.0V1048.6M2316.54 862.0V1048.6M2319.58 862.0V1048.6M2322.62 862.0V1048.6M2325.66 862.0V1048.6M2328.70 862.0V1048.6M2331.74 862.0V1048.6M2334.78 862.0V1048.6M2337.82 862.0V1048.6M2340.86 862.0V1048.6M2343.90 862.0V1048.6M2346.94 862.0V1048.6M2349.98 862.0V1048.6M2353.02 862.0V1048.6M2356.06 862.0V1048.6M2359.10 862.0V1048.6M2362.14 862.0V1048.6M2365.18 862.0V1048.6M2368.22 862.0V1048.6M2371.26 862.0V1048.6M2374.30 862.0V1048.6M2377.34 862.0V1048.6M2380.38 862.0V1048.6M2383.42 862.0V1048.6M2386.46 862.0V1048.6M2389.50 862.0V1048.6M2392.54 862.0V1048.6M2395.58 862.0V1048.6M2398.62 862.0V1048.6M2401.66 862.0V1048.6M2404.70 862.0V1048.6M2407.74 862.0V1048.6M2410.78 862.0V1048.6M2413.82 862.0V1048.6M2416.85 862.0V1048.6M2419.89 862.0V1048.6M2422.93 862.0V1048.6M2425.97 862.0V1048.6M2429.01 862.0V1048.6M2432.05 862.0V1048.6M2435.09 862.0V1048.6M2438.13 862.0V1048.6M2441.17 862.0V1048.6M2444.21 862.0V1048.6M2447.25 862.0V1048.6M2450.29 862.0V1048.6M2453.33 862.0V1048.6M2456.37 862.0V1048.6M2459.41 862.0V1048.6M2462.45 862.0V1048.6M2465.49 862.0V1048.6M2468.53 862.0V1048.6M2471.57 862.0V1048.6M2474.61 862.0V1048.6M2477.65 862.0V1048.6M2480.69 862.0V1048.6M2483.73 862.0V1048.6M2486.77 862.0V1048.6M2489.81 862.0V1048.6M2492.85 862.0V1048.6M2495.89 862.0V1048.6M2498.93 862.0V1048.6M2501.97 862.0V1048.6M2505.01 862.0V1048.6M2508.05 862.0V1048.6M2511.09 862.0V1048.6M2514.13 862.0V1048.6M2517.17 862.0V1048.6M2520.21 862.0V1048.6M2523.25 862.0V1048.6M2526.29 862.0V1048.6M2529.33 862.0V1048.6M2532.37 862.0V1048.6M2535.41 862.0V1048.6M2538.45 862.0V1048.6M2541.49 862.0V1048.6M2544.53 862.0V1048.6M2547.57 862.0V1048.6M2550.61 862.0V1048.6M2553.65 862.0V1048.6M2556.69 862.0V1048.6M2559.73 862.0V1048.6M2562.77 862.0V1048.6M2565.81 862.0V1048.6M2568.85 862.0V1048.6M2571.89 862.0V1048.6M2574.93 862.0V1048.6M2577.97 862.0V1048.6M2581.01 862.0V1048.6M2584.05 862.0V1048.6M2587.09 862.0V1048.6M2590.13 862.0V1048.6M2593.17 862.0V1048.6M2596.21 862.0V1048.6M2599.25 862.0V1048.6M2602.28 862.0V1048.6M2605.32 862.0V1048.6M2608.36 862.0V1048.6M2611.40 862.0V1048.6M2614.44 862.0V1048.6M2617.48 862.0V1048.6M2620.52 862.0V1048.6M2623.56 862.0V1048.6M2626.60 862.0V1048.6M2629.64 862.0V1048.6M2632.68 862.0V1048.6M2635.72 862.0V1048.6M2638.76 862.0V1048.6M2641.80 862.0V1048.6M2644.84 862.0V1048.6M2647.88 862.0V1048.6M2650.92 862.0V1048.6M2653.96 862.0V1048.6M2657.00 862.0V1048.6M2660.04 862.0V1048.6M2663.08 862.0V1048.6M2666.12 862.0V1048.6M2669.16 862.0V1048.6M2672.20 862.0V1048.6M2675.24 862.0V1048.6M2678.28 862.0V1048.6M2681.32 862.0V1048.6M2684.36 862.0V1048.6M2687.40 862.0V1048.6M2690.44 862.0V1048.6M2693.48 862.0V1048.6" stroke="#e4e7ec" stroke-width="1.2" fill="none"/>
<path d="M825.5 893.45H2695.0" stroke="#ff0000" stroke-width="2.6"/>
<path d="M825.5 909.10H2695.0" stroke="#ffff00" stroke-width="2.6"/>
<path d="M825.5 1034.30H2695.0" stroke="#ffff00" stroke-width="2.6"/>
<path d="M825.5 1050.05H2695.0" stroke="#ff3b3b" stroke-width="2.2"/>
<g clip-path="url(#co)"><path d="M827.02 985.59 L830.06 957.41 L833.10 968.37 L836.14 977.76 L839.18 985.59 L842.22 973.07 L845.26 982.46 L848.30 958.98 L851.34 973.07 L854.38 973.07 L857.42 965.24 L860.46 974.63 L863.50 974.63 L866.54 963.67 L869.58 969.93 L872.62 977.76 L875.66 965.24 L878.70 962.11 L881.74 980.89 L884.78 958.98 L887.82 973.07 L890.86 980.89 L893.90 968.37 L896.94 977.76 L899.98 963.67 L903.02 968.37 L906.06 971.50 L909.10 984.02 L912.14 963.67 L915.18 960.54 L918.22 957.41 L921.25 977.76 L924.29 963.67 L927.33 987.15 L930.37 962.11 L933.41 971.50 L936.45 973.07 L939.49 974.63 L942.53 980.89 L945.57 987.15 L948.61 977.76 L951.65 974.63 L954.69 958.98 L957.73 984.02 L960.77 974.63 L963.81 979.33 L966.85 969.93 L969.89 963.67 L972.93 973.07 L975.97 963.67 L979.01 958.98 L982.05 965.24 L985.09 963.67 L988.13 963.67 L991.17 987.15 L994.21 962.11 L997.25 968.37 L1000.29 982.46 L1003.33 985.59 L1006.37 957.41 L1009.41 973.07 L1012.45 963.67 L1015.49 979.33 L1018.53 962.11 L1021.57 957.41 L1024.61 976.20 L1027.65 963.67 L1030.69 987.15 L1033.73 971.50 L1036.77 984.02 L1039.81 962.11 L1042.85 973.07 L1045.89 977.76 L1048.93 979.33 L1051.97 969.93 L1055.01 965.24 L1058.05 982.46 L1061.09 980.89 L1064.13 974.63 L1067.17 980.89 L1070.21 963.67 L1073.25 968.37 L1076.29 977.76 L1079.33 969.93 L1082.37 971.50 L1085.41 966.81 L1088.45 973.07 L1091.49 962.11 L1094.53 965.24 L1097.57 977.76 L1100.61 987.15 L1103.65 980.89 L1106.68 974.63 L1109.72 982.46 L1112.76 969.93 L1115.80 973.07 L1118.84 968.37 L1121.88 965.24 L1124.92 977.76 L1127.96 965.24 L1131.00 979.33 L1134.04 968.37 L1137.08 958.98 L1140.12 966.81 L1143.16 958.98 L1146.20 974.63 L1149.24 966.81 L1152.28 976.20 L1155.32 984.02 L1158.36 974.63 L1161.40 958.98 L1164.44 957.41 L1167.48 973.07 L1170.52 980.89 L1173.56 957.41 L1176.60 958.98 L1179.64 958.98 L1182.68 958.98 L1185.72 987.15 L1188.76 963.67 L1191.80 966.81 L1194.84 968.37 L1197.88 974.63 L1200.92 973.07 L1203.96 958.98 L1207.00 987.15 L1210.04 966.81 L1213.08 958.98 L1216.12 980.89 L1219.16 971.50 L1222.20 965.24 L1225.24 987.15 L1228.28 968.37 L1231.32 977.76 L1234.36 977.76 L1237.40 958.98 L1240.44 980.89 L1243.48 974.63 L1246.52 969.93 L1249.56 985.59 L1252.60 971.50 L1255.64 965.24 L1258.68 973.07 L1261.72 974.63 L1264.76 965.24 L1267.80 973.07 L1270.84 962.11 L1273.88 987.15 L1276.92 973.07 L1279.96 969.93 L1283.00 977.76 L1286.04 957.41 L1289.08 958.98 L1292.12 971.50 L1295.15 969.93 L1298.19 971.50 L1301.23 958.98 L1304.27 960.54 L1307.31 980.89 L1310.35 957.41 L1313.39 966.81 L1316.43 962.11 L1319.47 980.89 L1322.51 979.33 L1325.55 965.24 L1328.59 984.02 L1331.63 980.89 L1334.67 963.67 L1337.71 973.07 L1340.75 962.11 L1343.79 985.59 L1346.83 966.81 L1349.87 973.07 L1352.91 987.15 L1355.95 980.89 L1358.99 973.07 L1362.03 974.63 L1365.07 963.67 L1368.11 973.07 L1371.15 982.46 L1374.19 958.98 L1377.23 984.02 L1380.27 977.76 L1383.31 958.98 L1386.35 973.07 L1389.39 979.33 L1392.43 958.98 L1395.47 980.89 L1398.51 985.59 L1401.55 973.07 L1404.59 982.46 L1407.63 966.81 L1410.67 966.81 L1413.71 977.76 L1416.75 982.46 L1419.79 984.02 L1422.83 985.59 L1425.87 963.67 L1428.91 976.20 L1431.95 977.76 L1434.99 963.67 L1438.03 984.02 L1441.07 963.67 L1444.11 985.59 L1447.15 987.15 L1450.19 987.15 L1453.23 962.11 L1456.27 982.46 L1459.31 962.11 L1462.35 971.50 L1465.39 973.07 L1468.43 962.11 L1471.47 984.02 L1474.51 969.93 L1477.55 982.46 L1480.58 980.89 L1483.62 971.50 L1486.66 976.20 L1489.70 974.63 L1492.74 969.93 L1495.78 971.50 L1498.82 965.24 L1501.86 968.37 L1504.90 958.98 L1507.94 987.15 L1510.98 971.50 L1514.02 982.46 L1517.06 976.20 L1520.10 963.67 L1523.14 962.11 L1526.18 958.98 L1529.22 974.63 L1532.26 974.63 L1535.30 971.50 L1538.34 982.46 L1541.38 968.37 L1544.42 965.24 L1547.46 979.33 L1550.50 985.59 L1553.54 973.07 L1556.58 974.63 L1559.62 968.37 L1562.66 980.89 L1565.70 971.50 L1568.74 962.11 L1571.78 987.15 L1574.82 976.20 L1577.86 987.15 L1580.90 977.76 L1583.94 979.33 L1586.98 973.07 L1590.02 980.89 L1593.06 973.07 L1596.10 984.02 L1599.14 974.63 L1602.18 963.67 L1605.22 960.54 L1608.26 974.63 L1611.30 980.89 L1614.34 979.33 L1617.38 973.07 L1620.42 984.02 L1623.46 979.33 L1626.50 977.76 L1629.54 987.15 L1632.58 980.89 L1635.62 963.67 L1638.66 969.93 L1641.70 980.89 L1644.74 962.11 L1647.78 985.59 L1650.82 984.02 L1653.86 963.67 L1656.90 979.33 L1659.94 969.93 L1662.98 974.63 L1666.02 957.41 L1669.05 963.67 L1672.09 980.89 L1675.13 987.15 L1678.17 971.50 L1681.21 963.67 L1684.25 974.63 L1687.29 957.41 L1690.33 984.02 L1693.37 960.54 L1696.41 980.89 L1699.45 957.41 L1702.49 980.89 L1705.53 987.15 L1708.57 984.02 L1711.61 960.54 L1714.65 962.11 L1717.69 973.07 L1720.73 958.98 L1723.77 973.07 L1726.81 962.11 L1729.85 966.81 L1732.89 987.15 L1735.93 962.11 L1738.97 973.07 L1742.01 965.24 L1745.05 980.89 L1748.09 974.63 L1751.13 982.46 L1754.17 987.15 L1757.21 973.07 L1760.25 973.07 L1763.29 973.07 L1766.33 966.81 L1769.37 965.24 L1772.41 980.89 L1775.45 974.63 L1778.49 971.50 L1781.53 973.07 L1784.57 973.07 L1787.61 974.63 L1790.65 980.89 L1793.69 973.07 L1796.73 968.37 L1799.77 958.98 L1802.81 976.20 L1805.85 958.98 L1808.89 965.24 L1811.93 982.46 L1814.97 984.02 L1818.01 985.59 L1821.05 977.76 L1824.09 958.98 L1827.13 985.59 L1830.17 973.07 L1833.21 976.20 L1836.25 958.98 L1839.29 966.81 L1842.33 982.46 L1845.37 960.54 L1848.41 979.33 L1851.45 958.98 L1854.48 974.63 L1857.52 963.67 L1860.56 973.07 L1863.60 968.37 L1866.64 987.15 L1869.68 980.89 L1872.72 973.07 L1875.76 980.89 L1878.80 974.63 L1881.84 973.07 L1884.88 987.15 L1887.92 982.46 L1890.96 963.67 L1894.00 966.81 L1897.04 984.02 L1900.08 963.67 L1903.12 965.24 L1906.16 982.46 L1909.20 987.15 L1912.24 982.46 L1915.28 985.59 L1918.32 971.50 L1921.36 987.15 L1924.40 969.93 L1927.44 987.15 L1930.48 984.02 L1933.52 985.59 L1936.56 973.07 L1939.60 974.63 L1942.64 969.93 L1945.68 982.46 L1948.72 987.15 L1951.76 973.07 L1954.80 985.59 L1957.84 982.46 L1960.88 987.15 L1963.92 963.67 L1966.96 982.46 L1970.00 969.93 L1973.04 962.11 L1976.08 980.89 L1979.12 987.15 L1982.16 957.41 L1985.20 973.07 L1988.24 987.15 L1991.28 987.15 L1994.32 974.63 L1997.36 966.81 L2000.40 958.98 L2003.44 963.67 L2006.48 962.11 L2009.52 985.59 L2012.56 973.07 L2015.60 987.15 L2018.64 974.63 L2021.68 980.89 L2024.72 973.07 L2027.76 963.67 L2030.80 969.93 L2033.84 985.59 L2036.88 958.98 L2039.92 979.33 L2042.95 973.07 L2045.99 982.46 L2049.03 976.20 L2052.07 973.07 L2055.11 969.93 L2058.15 968.37 L2061.19 963.67 L2064.23 977.76 L2067.27 969.93 L2070.31 980.89 L2073.35 985.59 L2076.39 977.76 L2079.43 963.67 L2082.47 973.07 L2085.51 963.67 L2088.55 977.76 L2091.59 960.54 L2094.63 987.15 L2097.67 984.02 L2100.71 968.37 L2103.75 979.33 L2106.79 980.89 L2109.83 982.46 L2112.87 971.50 L2115.91 987.15 L2118.95 979.33 L2121.99 965.24 L2125.03 958.98 L2128.07 987.15 L2131.11 973.07 L2134.15 962.11 L2137.19 973.07 L2140.23 980.89 L2143.27 958.98 L2146.31 968.37 L2149.35 973.07 L2152.39 974.63 L2155.43 987.15 L2158.47 965.24 L2161.51 973.07 L2164.55 977.76 L2167.59 974.63 L2170.63 982.46 L2173.67 962.11 L2176.71 966.81 L2179.75 958.98 L2182.79 987.15 L2185.83 971.50 L2188.87 977.76 L2191.91 969.93 L2194.95 958.98 L2197.99 985.59 L2201.03 958.98 L2204.07 974.63 L2207.11 980.89 L2210.15 958.98 L2213.19 973.07 L2216.23 974.63 L2219.27 973.07 L2222.31 977.76 L2225.35 958.98 L2228.38 985.59 L2231.42 968.37 L2234.46 985.59 L2237.50 973.07 L2240.54 962.11 L2243.58 973.07 L2246.62 968.37 L2249.66 968.37 L2252.70 985.59 L2255.74 982.46 L2258.78 987.15 L2261.82 985.59 L2264.86 958.98 L2267.90 971.50 L2270.94 963.67 L2273.98 974.63 L2277.02 984.02 L2280.06 963.67 L2283.10 968.37 L2286.14 962.11 L2289.18 974.63 L2292.22 973.07 L2295.26 980.89 L2298.30 966.81 L2301.34 979.33 L2304.38 973.07 L2307.42 973.07 L2310.46 973.07 L2313.50 974.63 L2316.54 965.24 L2319.58 985.59 L2322.62 974.63 L2325.66 960.54 L2328.70 958.98 L2331.74 987.15 L2334.78 965.24 L2337.82 966.81 L2340.86 963.67 L2343.90 976.20 L2346.94 958.98 L2349.98 973.07 L2353.02 960.54 L2356.06 966.81 L2359.10 971.50 L2362.14 987.15 L2365.18 987.15 L2368.22 957.41 L2371.26 977.76 L2374.30 980.89 L2377.34 968.37 L2380.38 973.07 L2383.42 958.98 L2386.46 973.07 L2389.50 958.98 L2392.54 963.67 L2395.58 973.07 L2398.62 987.15 L2401.66 982.46 L2404.70 973.07 L2407.74 980.89 L2410.78 987.15 L2413.82 971.50 L2416.85 969.93 L2419.89 987.15 L2422.93 976.20 L2425.97 965.24 L2429.01 977.76 L2432.05 987.15 L2435.09 974.63 L2438.13 958.98 L2441.17 976.20 L2444.21 985.59 L2447.25 968.37 L2450.29 979.33 L2453.33 969.93 L2456.37 979.33 L2459.41 965.24 L2462.45 963.67 L2465.49 974.63 L2468.53 980.89 L2471.57 979.33 L2474.61 971.50 L2477.65 985.59 L2480.69 984.02 L2483.73 987.15 L2486.77 958.98 L2489.81 985.59 L2492.85 987.15 L2495.89 974.63 L2498.93 971.50 L2501.97 971.50 L2505.01 982.46 L2508.05 968.37 L2511.09 966.81 L2514.13 971.50 L2517.17 980.89 L2520.21 987.15 L2523.25 958.98 L2526.29 976.20 L2529.33 971.50 L2532.37 958.98 L2535.41 962.11 L2538.45 980.89 L2541.49 987.15 L2544.53 973.07 L2547.57 962.11 L2550.61 974.63 L2553.65 976.20 L2556.69 984.02 L2559.73 984.02 L2562.77 982.46 L2565.81 973.07 L2568.85 974.63 L2571.89 974.63 L2574.93 957.41 L2577.97 973.07 L2581.01 963.67 L2584.05 973.07 L2587.09 980.89 L2590.13 987.15 L2593.17 984.02 L2596.21 985.59 L2599.25 971.50 L2602.28 973.07 L2605.32 965.24 L2608.36 973.07 L2611.40 971.50 L2614.44 980.89 L2617.48 980.89 L2620.52 971.50 L2623.56 965.24 L2626.60 960.54 L2629.64 963.67 L2632.68 985.59 L2635.72 969.93 L2638.76 969.93 L2641.80 980.89 L2644.84 966.81 L2647.88 969.93 L2650.92 982.46 L2653.96 958.98 L2657.00 977.76 L2660.04 987.15 L2663.08 965.24 L2666.12 958.98 L2669.16 962.11 L2672.20 968.37 L2675.24 976.20 L2678.28 965.24 L2681.32 987.15 L2684.36 976.20 L2687.40 960.54 L2690.44 976.20 L2693.48 971.50" fill="none" stroke="#0000ff" stroke-width="1.5" stroke-linejoin="round"/>
<g fill="#0000ff" stroke="#fff" stroke-width="0.5"><circle cx="827.02" cy="985.59" r="3.3"/><circle cx="830.06" cy="957.41" r="3.3"/><circle cx="833.10" cy="968.37" r="3.3"/><circle cx="836.14" cy="977.76" r="3.3"/><circle cx="839.18" cy="985.59" r="3.3"/><circle cx="842.22" cy="973.07" r="3.3"/><circle cx="845.26" cy="982.46" r="3.3"/><circle cx="848.30" cy="958.98" r="3.3"/><circle cx="851.34" cy="973.07" r="3.3"/><circle cx="854.38" cy="973.07" r="3.3"/><circle cx="857.42" cy="965.24" r="3.3"/><circle cx="860.46" cy="974.63" r="3.3"/><circle cx="863.50" cy="974.63" r="3.3"/><circle cx="866.54" cy="963.67" r="3.3"/><circle cx="869.58" cy="969.93" r="3.3"/><circle cx="872.62" cy="977.76" r="3.3"/><circle cx="875.66" cy="965.24" r="3.3"/><circle cx="878.70" cy="962.11" r="3.3"/><circle cx="881.74" cy="980.89" r="3.3"/><circle cx="884.78" cy="958.98" r="3.3"/><circle cx="887.82" cy="973.07" r="3.3"/><circle cx="890.86" cy="980.89" r="3.3"/><circle cx="893.90" cy="968.37" r="3.3"/><circle cx="896.94" cy="977.76" r="3.3"/><circle cx="899.98" cy="963.67" r="3.3"/><circle cx="903.02" cy="968.37" r="3.3"/><circle cx="906.06" cy="971.50" r="3.3"/><circle cx="909.10" cy="984.02" r="3.3"/><circle cx="912.14" cy="963.67" r="3.3"/><circle cx="915.18" cy="960.54" r="3.3"/><circle cx="918.22" cy="957.41" r="3.3"/><circle cx="921.25" cy="977.76" r="3.3"/><circle cx="924.29" cy="963.67" r="3.3"/><circle cx="927.33" cy="987.15" r="3.3"/><circle cx="930.37" cy="962.11" r="3.3"/><circle cx="933.41" cy="971.50" r="3.3"/><circle cx="936.45" cy="973.07" r="3.3"/><circle cx="939.49" cy="974.63" r="3.3"/><circle cx="942.53" cy="980.89" r="3.3"/><circle cx="945.57" cy="987.15" r="3.3"/><circle cx="948.61" cy="977.76" r="3.3"/><circle cx="951.65" cy="974.63" r="3.3"/><circle cx="954.69" cy="958.98" r="3.3"/><circle cx="957.73" cy="984.02" r="3.3"/><circle cx="960.77" cy="974.63" r="3.3"/><circle cx="963.81" cy="979.33" r="3.3"/><circle cx="966.85" cy="969.93" r="3.3"/><circle cx="969.89" cy="963.67" r="3.3"/><circle cx="972.93" cy="973.07" r="3.3"/><circle cx="975.97" cy="963.67" r="3.3"/><circle cx="979.01" cy="958.98" r="3.3"/><circle cx="982.05" cy="965.24" r="3.3"/><circle cx="985.09" cy="963.67" r="3.3"/><circle cx="988.13" cy="963.67" r="3.3"/><circle cx="991.17" cy="987.15" r="3.3"/><circle cx="994.21" cy="962.11" r="3.3"/><circle cx="997.25" cy="968.37" r="3.3"/><circle cx="1000.29" cy="982.46" r="3.3"/><circle cx="1003.33" cy="985.59" r="3.3"/><circle cx="1006.37" cy="957.41" r="3.3"/><circle cx="1009.41" cy="973.07" r="3.3"/><circle cx="1012.45" cy="963.67" r="3.3"/><circle cx="1015.49" cy="979.33" r="3.3"/><circle cx="1018.53" cy="962.11" r="3.3"/><circle cx="1021.57" cy="957.41" r="3.3"/><circle cx="1024.61" cy="976.20" r="3.3"/><circle cx="1027.65" cy="963.67" r="3.3"/><circle cx="1030.69" cy="987.15" r="3.3"/><circle cx="1033.73" cy="971.50" r="3.3"/><circle cx="1036.77" cy="984.02" r="3.3"/><circle cx="1039.81" cy="962.11" r="3.3"/><circle cx="1042.85" cy="973.07" r="3.3"/><circle cx="1045.89" cy="977.76" r="3.3"/><circle cx="1048.93" cy="979.33" r="3.3"/><circle cx="1051.97" cy="969.93" r="3.3"/><circle cx="1055.01" cy="965.24" r="3.3"/><circle cx="1058.05" cy="982.46" r="3.3"/><circle cx="1061.09" cy="980.89" r="3.3"/><circle cx="1064.13" cy="974.63" r="3.3"/><circle cx="1067.17" cy="980.89" r="3.3"/><circle cx="1070.21" cy="963.67" r="3.3"/><circle cx="1073.25" cy="968.37" r="3.3"/><circle cx="1076.29" cy="977.76" r="3.3"/><circle cx="1079.33" cy="969.93" r="3.3"/><circle cx="1082.37" cy="971.50" r="3.3"/><circle cx="1085.41" cy="966.81" r="3.3"/><circle cx="1088.45" cy="973.07" r="3.3"/><circle cx="1091.49" cy="962.11" r="3.3"/><circle cx="1094.53" cy="965.24" r="3.3"/><circle cx="1097.57" cy="977.76" r="3.3"/><circle cx="1100.61" cy="987.15" r="3.3"/><circle cx="1103.65" cy="980.89" r="3.3"/><circle cx="1106.68" cy="974.63" r="3.3"/><circle cx="1109.72" cy="982.46" r="3.3"/><circle cx="1112.76" cy="969.93" r="3.3"/><circle cx="1115.80" cy="973.07" r="3.3"/><circle cx="1118.84" cy="968.37" r="3.3"/><circle cx="1121.88" cy="965.24" r="3.3"/><circle cx="1124.92" cy="977.76" r="3.3"/><circle cx="1127.96" cy="965.24" r="3.3"/><circle cx="1131.00" cy="979.33" r="3.3"/><circle cx="1134.04" cy="968.37" r="3.3"/><circle cx="1137.08" cy="958.98" r="3.3"/><circle cx="1140.12" cy="966.81" r="3.3"/><circle cx="1143.16" cy="958.98" r="3.3"/><circle cx="1146.20" cy="974.63" r="3.3"/><circle cx="1149.24" cy="966.81" r="3.3"/><circle cx="1152.28" cy="976.20" r="3.3"/><circle cx="1155.32" cy="984.02" r="3.3"/><circle cx="1158.36" cy="974.63" r="3.3"/><circle cx="1161.40" cy="958.98" r="3.3"/><circle cx="1164.44" cy="957.41" r="3.3"/><circle cx="1167.48" cy="973.07" r="3.3"/><circle cx="1170.52" cy="980.89" r="3.3"/><circle cx="1173.56" cy="957.41" r="3.3"/><circle cx="1176.60" cy="958.98" r="3.3"/><circle cx="1179.64" cy="958.98" r="3.3"/><circle cx="1182.68" cy="958.98" r="3.3"/><circle cx="1185.72" cy="987.15" r="3.3"/><circle cx="1188.76" cy="963.67" r="3.3"/><circle cx="1191.80" cy="966.81" r="3.3"/><circle cx="1194.84" cy="968.37" r="3.3"/><circle cx="1197.88" cy="974.63" r="3.3"/><circle cx="1200.92" cy="973.07" r="3.3"/><circle cx="1203.96" cy="958.98" r="3.3"/><circle cx="1207.00" cy="987.15" r="3.3"/><circle cx="1210.04" cy="966.81" r="3.3"/><circle cx="1213.08" cy="958.98" r="3.3"/><circle cx="1216.12" cy="980.89" r="3.3"/><circle cx="1219.16" cy="971.50" r="3.3"/><circle cx="1222.20" cy="965.24" r="3.3"/><circle cx="1225.24" cy="987.15" r="3.3"/><circle cx="1228.28" cy="968.37" r="3.3"/><circle cx="1231.32" cy="977.76" r="3.3"/><circle cx="1234.36" cy="977.76" r="3.3"/><circle cx="1237.40" cy="958.98" r="3.3"/><circle cx="1240.44" cy="980.89" r="3.3"/><circle cx="1243.48" cy="974.63" r="3.3"/><circle cx="1246.52" cy="969.93" r="3.3"/><circle cx="1249.56" cy="985.59" r="3.3"/><circle cx="1252.60" cy="971.50" r="3.3"/><circle cx="1255.64" cy="965.24" r="3.3"/><circle cx="1258.68" cy="973.07" r="3.3"/><circle cx="1261.72" cy="974.63" r="3.3"/><circle cx="1264.76" cy="965.24" r="3.3"/><circle cx="1267.80" cy="973.07" r="3.3"/><circle cx="1270.84" cy="962.11" r="3.3"/><circle cx="1273.88" cy="987.15" r="3.3"/><circle cx="1276.92" cy="973.07" r="3.3"/><circle cx="1279.96" cy="969.93" r="3.3"/><circle cx="1283.00" cy="977.76" r="3.3"/><circle cx="1286.04" cy="957.41" r="3.3"/><circle cx="1289.08" cy="958.98" r="3.3"/><circle cx="1292.12" cy="971.50" r="3.3"/><circle cx="1295.15" cy="969.93" r="3.3"/><circle cx="1298.19" cy="971.50" r="3.3"/><circle cx="1301.23" cy="958.98" r="3.3"/><circle cx="1304.27" cy="960.54" r="3.3"/><circle cx="1307.31" cy="980.89" r="3.3"/><circle cx="1310.35" cy="957.41" r="3.3"/><circle cx="1313.39" cy="966.81" r="3.3"/><circle cx="1316.43" cy="962.11" r="3.3"/><circle cx="1319.47" cy="980.89" r="3.3"/><circle cx="1322.51" cy="979.33" r="3.3"/><circle cx="1325.55" cy="965.24" r="3.3"/><circle cx="1328.59" cy="984.02" r="3.3"/><circle cx="1331.63" cy="980.89" r="3.3"/><circle cx="1334.67" cy="963.67" r="3.3"/><circle cx="1337.71" cy="973.07" r="3.3"/><circle cx="1340.75" cy="962.11" r="3.3"/><circle cx="1343.79" cy="985.59" r="3.3"/><circle cx="1346.83" cy="966.81" r="3.3"/><circle cx="1349.87" cy="973.07" r="3.3"/><circle cx="1352.91" cy="987.15" r="3.3"/><circle cx="1355.95" cy="980.89" r="3.3"/><circle cx="1358.99" cy="973.07" r="3.3"/><circle cx="1362.03" cy="974.63" r="3.3"/><circle cx="1365.07" cy="963.67" r="3.3"/><circle cx="1368.11" cy="973.07" r="3.3"/><circle cx="1371.15" cy="982.46" r="3.3"/><circle cx="1374.19" cy="958.98" r="3.3"/><circle cx="1377.23" cy="984.02" r="3.3"/><circle cx="1380.27" cy="977.76" r="3.3"/><circle cx="1383.31" cy="958.98" r="3.3"/><circle cx="1386.35" cy="973.07" r="3.3"/><circle cx="1389.39" cy="979.33" r="3.3"/><circle cx="1392.43" cy="958.98" r="3.3"/><circle cx="1395.47" cy="980.89" r="3.3"/><circle cx="1398.51" cy="985.59" r="3.3"/><circle cx="1401.55" cy="973.07" r="3.3"/><circle cx="1404.59" cy="982.46" r="3.3"/><circle cx="1407.63" cy="966.81" r="3.3"/><circle cx="1410.67" cy="966.81" r="3.3"/><circle cx="1413.71" cy="977.76" r="3.3"/><circle cx="1416.75" cy="982.46" r="3.3"/><circle cx="1419.79" cy="984.02" r="3.3"/><circle cx="1422.83" cy="985.59" r="3.3"/><circle cx="1425.87" cy="963.67" r="3.3"/><circle cx="1428.91" cy="976.20" r="3.3"/><circle cx="1431.95" cy="977.76" r="3.3"/><circle cx="1434.99" cy="963.67" r="3.3"/><circle cx="1438.03" cy="984.02" r="3.3"/><circle cx="1441.07" cy="963.67" r="3.3"/><circle cx="1444.11" cy="985.59" r="3.3"/><circle cx="1447.15" cy="987.15" r="3.3"/><circle cx="1450.19" cy="987.15" r="3.3"/><circle cx="1453.23" cy="962.11" r="3.3"/><circle cx="1456.27" cy="982.46" r="3.3"/><circle cx="1459.31" cy="962.11" r="3.3"/><circle cx="1462.35" cy="971.50" r="3.3"/><circle cx="1465.39" cy="973.07" r="3.3"/><circle cx="1468.43" cy="962.11" r="3.3"/><circle cx="1471.47" cy="984.02" r="3.3"/><circle cx="1474.51" cy="969.93" r="3.3"/><circle cx="1477.55" cy="982.46" r="3.3"/><circle cx="1480.58" cy="980.89" r="3.3"/><circle cx="1483.62" cy="971.50" r="3.3"/><circle cx="1486.66" cy="976.20" r="3.3"/><circle cx="1489.70" cy="974.63" r="3.3"/><circle cx="1492.74" cy="969.93" r="3.3"/><circle cx="1495.78" cy="971.50" r="3.3"/><circle cx="1498.82" cy="965.24" r="3.3"/><circle cx="1501.86" cy="968.37" r="3.3"/><circle cx="1504.90" cy="958.98" r="3.3"/><circle cx="1507.94" cy="987.15" r="3.3"/><circle cx="1510.98" cy="971.50" r="3.3"/><circle cx="1514.02" cy="982.46" r="3.3"/><circle cx="1517.06" cy="976.20" r="3.3"/><circle cx="1520.10" cy="963.67" r="3.3"/><circle cx="1523.14" cy="962.11" r="3.3"/><circle cx="1526.18" cy="958.98" r="3.3"/><circle cx="1529.22" cy="974.63" r="3.3"/><circle cx="1532.26" cy="974.63" r="3.3"/><circle cx="1535.30" cy="971.50" r="3.3"/><circle cx="1538.34" cy="982.46" r="3.3"/><circle cx="1541.38" cy="968.37" r="3.3"/><circle cx="1544.42" cy="965.24" r="3.3"/><circle cx="1547.46" cy="979.33" r="3.3"/><circle cx="1550.50" cy="985.59" r="3.3"/><circle cx="1553.54" cy="973.07" r="3.3"/><circle cx="1556.58" cy="974.63" r="3.3"/><circle cx="1559.62" cy="968.37" r="3.3"/><circle cx="1562.66" cy="980.89" r="3.3"/><circle cx="1565.70" cy="971.50" r="3.3"/><circle cx="1568.74" cy="962.11" r="3.3"/><circle cx="1571.78" cy="987.15" r="3.3"/><circle cx="1574.82" cy="976.20" r="3.3"/><circle cx="1577.86" cy="987.15" r="3.3"/><circle cx="1580.90" cy="977.76" r="3.3"/><circle cx="1583.94" cy="979.33" r="3.3"/><circle cx="1586.98" cy="973.07" r="3.3"/><circle cx="1590.02" cy="980.89" r="3.3"/><circle cx="1593.06" cy="973.07" r="3.3"/><circle cx="1596.10" cy="984.02" r="3.3"/><circle cx="1599.14" cy="974.63" r="3.3"/><circle cx="1602.18" cy="963.67" r="3.3"/><circle cx="1605.22" cy="960.54" r="3.3"/><circle cx="1608.26" cy="974.63" r="3.3"/><circle cx="1611.30" cy="980.89" r="3.3"/><circle cx="1614.34" cy="979.33" r="3.3"/><circle cx="1617.38" cy="973.07" r="3.3"/><circle cx="1620.42" cy="984.02" r="3.3"/><circle cx="1623.46" cy="979.33" r="3.3"/><circle cx="1626.50" cy="977.76" r="3.3"/><circle cx="1629.54" cy="987.15" r="3.3"/><circle cx="1632.58" cy="980.89" r="3.3"/><circle cx="1635.62" cy="963.67" r="3.3"/><circle cx="1638.66" cy="969.93" r="3.3"/><circle cx="1641.70" cy="980.89" r="3.3"/><circle cx="1644.74" cy="962.11" r="3.3"/><circle cx="1647.78" cy="985.59" r="3.3"/><circle cx="1650.82" cy="984.02" r="3.3"/><circle cx="1653.86" cy="963.67" r="3.3"/><circle cx="1656.90" cy="979.33" r="3.3"/><circle cx="1659.94" cy="969.93" r="3.3"/><circle cx="1662.98" cy="974.63" r="3.3"/><circle cx="1666.02" cy="957.41" r="3.3"/><circle cx="1669.05" cy="963.67" r="3.3"/><circle cx="1672.09" cy="980.89" r="3.3"/><circle cx="1675.13" cy="987.15" r="3.3"/><circle cx="1678.17" cy="971.50" r="3.3"/><circle cx="1681.21" cy="963.67" r="3.3"/><circle cx="1684.25" cy="974.63" r="3.3"/><circle cx="1687.29" cy="957.41" r="3.3"/><circle cx="1690.33" cy="984.02" r="3.3"/><circle cx="1693.37" cy="960.54" r="3.3"/><circle cx="1696.41" cy="980.89" r="3.3"/><circle cx="1699.45" cy="957.41" r="3.3"/><circle cx="1702.49" cy="980.89" r="3.3"/><circle cx="1705.53" cy="987.15" r="3.3"/><circle cx="1708.57" cy="984.02" r="3.3"/><circle cx="1711.61" cy="960.54" r="3.3"/><circle cx="1714.65" cy="962.11" r="3.3"/><circle cx="1717.69" cy="973.07" r="3.3"/><circle cx="1720.73" cy="958.98" r="3.3"/><circle cx="1723.77" cy="973.07" r="3.3"/><circle cx="1726.81" cy="962.11" r="3.3"/><circle cx="1729.85" cy="966.81" r="3.3"/><circle cx="1732.89" cy="987.15" r="3.3"/><circle cx="1735.93" cy="962.11" r="3.3"/><circle cx="1738.97" cy="973.07" r="3.3"/><circle cx="1742.01" cy="965.24" r="3.3"/><circle cx="1745.05" cy="980.89" r="3.3"/><circle cx="1748.09" cy="974.63" r="3.3"/><circle cx="1751.13" cy="982.46" r="3.3"/><circle cx="1754.17" cy="987.15" r="3.3"/><circle cx="1757.21" cy="973.07" r="3.3"/><circle cx="1760.25" cy="973.07" r="3.3"/><circle cx="1763.29" cy="973.07" r="3.3"/><circle cx="1766.33" cy="966.81" r="3.3"/><circle cx="1769.37" cy="965.24" r="3.3"/><circle cx="1772.41" cy="980.89" r="3.3"/><circle cx="1775.45" cy="974.63" r="3.3"/><circle cx="1778.49" cy="971.50" r="3.3"/><circle cx="1781.53" cy="973.07" r="3.3"/><circle cx="1784.57" cy="973.07" r="3.3"/><circle cx="1787.61" cy="974.63" r="3.3"/><circle cx="1790.65" cy="980.89" r="3.3"/><circle cx="1793.69" cy="973.07" r="3.3"/><circle cx="1796.73" cy="968.37" r="3.3"/><circle cx="1799.77" cy="958.98" r="3.3"/><circle cx="1802.81" cy="976.20" r="3.3"/><circle cx="1805.85" cy="958.98" r="3.3"/><circle cx="1808.89" cy="965.24" r="3.3"/><circle cx="1811.93" cy="982.46" r="3.3"/><circle cx="1814.97" cy="984.02" r="3.3"/><circle cx="1818.01" cy="985.59" r="3.3"/><circle cx="1821.05" cy="977.76" r="3.3"/><circle cx="1824.09" cy="958.98" r="3.3"/><circle cx="1827.13" cy="985.59" r="3.3"/><circle cx="1830.17" cy="973.07" r="3.3"/><circle cx="1833.21" cy="976.20" r="3.3"/><circle cx="1836.25" cy="958.98" r="3.3"/><circle cx="1839.29" cy="966.81" r="3.3"/><circle cx="1842.33" cy="982.46" r="3.3"/><circle cx="1845.37" cy="960.54" r="3.3"/><circle cx="1848.41" cy="979.33" r="3.3"/><circle cx="1851.45" cy="958.98" r="3.3"/><circle cx="1854.48" cy="974.63" r="3.3"/><circle cx="1857.52" cy="963.67" r="3.3"/><circle cx="1860.56" cy="973.07" r="3.3"/><circle cx="1863.60" cy="968.37" r="3.3"/><circle cx="1866.64" cy="987.15" r="3.3"/><circle cx="1869.68" cy="980.89" r="3.3"/><circle cx="1872.72" cy="973.07" r="3.3"/><circle cx="1875.76" cy="980.89" r="3.3"/><circle cx="1878.80" cy="974.63" r="3.3"/><circle cx="1881.84" cy="973.07" r="3.3"/><circle cx="1884.88" cy="987.15" r="3.3"/><circle cx="1887.92" cy="982.46" r="3.3"/><circle cx="1890.96" cy="963.67" r="3.3"/><circle cx="1894.00" cy="966.81" r="3.3"/><circle cx="1897.04" cy="984.02" r="3.3"/><circle cx="1900.08" cy="963.67" r="3.3"/><circle cx="1903.12" cy="965.24" r="3.3"/><circle cx="1906.16" cy="982.46" r="3.3"/><circle cx="1909.20" cy="987.15" r="3.3"/><circle cx="1912.24" cy="982.46" r="3.3"/><circle cx="1915.28" cy="985.59" r="3.3"/><circle cx="1918.32" cy="971.50" r="3.3"/><circle cx="1921.36" cy="987.15" r="3.3"/><circle cx="1924.40" cy="969.93" r="3.3"/><circle cx="1927.44" cy="987.15" r="3.3"/><circle cx="1930.48" cy="984.02" r="3.3"/><circle cx="1933.52" cy="985.59" r="3.3"/><circle cx="1936.56" cy="973.07" r="3.3"/><circle cx="1939.60" cy="974.63" r="3.3"/><circle cx="1942.64" cy="969.93" r="3.3"/><circle cx="1945.68" cy="982.46" r="3.3"/><circle cx="1948.72" cy="987.15" r="3.3"/><circle cx="1951.76" cy="973.07" r="3.3"/><circle cx="1954.80" cy="985.59" r="3.3"/><circle cx="1957.84" cy="982.46" r="3.3"/><circle cx="1960.88" cy="987.15" r="3.3"/><circle cx="1963.92" cy="963.67" r="3.3"/><circle cx="1966.96" cy="982.46" r="3.3"/><circle cx="1970.00" cy="969.93" r="3.3"/><circle cx="1973.04" cy="962.11" r="3.3"/><circle cx="1976.08" cy="980.89" r="3.3"/><circle cx="1979.12" cy="987.15" r="3.3"/><circle cx="1982.16" cy="957.41" r="3.3"/><circle cx="1985.20" cy="973.07" r="3.3"/><circle cx="1988.24" cy="987.15" r="3.3"/><circle cx="1991.28" cy="987.15" r="3.3"/><circle cx="1994.32" cy="974.63" r="3.3"/><circle cx="1997.36" cy="966.81" r="3.3"/><circle cx="2000.40" cy="958.98" r="3.3"/><circle cx="2003.44" cy="963.67" r="3.3"/><circle cx="2006.48" cy="962.11" r="3.3"/><circle cx="2009.52" cy="985.59" r="3.3"/><circle cx="2012.56" cy="973.07" r="3.3"/><circle cx="2015.60" cy="987.15" r="3.3"/><circle cx="2018.64" cy="974.63" r="3.3"/><circle cx="2021.68" cy="980.89" r="3.3"/><circle cx="2024.72" cy="973.07" r="3.3"/><circle cx="2027.76" cy="963.67" r="3.3"/><circle cx="2030.80" cy="969.93" r="3.3"/><circle cx="2033.84" cy="985.59" r="3.3"/><circle cx="2036.88" cy="958.98" r="3.3"/><circle cx="2039.92" cy="979.33" r="3.3"/><circle cx="2042.95" cy="973.07" r="3.3"/><circle cx="2045.99" cy="982.46" r="3.3"/><circle cx="2049.03" cy="976.20" r="3.3"/><circle cx="2052.07" cy="973.07" r="3.3"/><circle cx="2055.11" cy="969.93" r="3.3"/><circle cx="2058.15" cy="968.37" r="3.3"/><circle cx="2061.19" cy="963.67" r="3.3"/><circle cx="2064.23" cy="977.76" r="3.3"/><circle cx="2067.27" cy="969.93" r="3.3"/><circle cx="2070.31" cy="980.89" r="3.3"/><circle cx="2073.35" cy="985.59" r="3.3"/><circle cx="2076.39" cy="977.76" r="3.3"/><circle cx="2079.43" cy="963.67" r="3.3"/><circle cx="2082.47" cy="973.07" r="3.3"/><circle cx="2085.51" cy="963.67" r="3.3"/><circle cx="2088.55" cy="977.76" r="3.3"/><circle cx="2091.59" cy="960.54" r="3.3"/><circle cx="2094.63" cy="987.15" r="3.3"/><circle cx="2097.67" cy="984.02" r="3.3"/><circle cx="2100.71" cy="968.37" r="3.3"/><circle cx="2103.75" cy="979.33" r="3.3"/><circle cx="2106.79" cy="980.89" r="3.3"/><circle cx="2109.83" cy="982.46" r="3.3"/><circle cx="2112.87" cy="971.50" r="3.3"/><circle cx="2115.91" cy="987.15" r="3.3"/><circle cx="2118.95" cy="979.33" r="3.3"/><circle cx="2121.99" cy="965.24" r="3.3"/><circle cx="2125.03" cy="958.98" r="3.3"/><circle cx="2128.07" cy="987.15" r="3.3"/><circle cx="2131.11" cy="973.07" r="3.3"/><circle cx="2134.15" cy="962.11" r="3.3"/><circle cx="2137.19" cy="973.07" r="3.3"/><circle cx="2140.23" cy="980.89" r="3.3"/><circle cx="2143.27" cy="958.98" r="3.3"/><circle cx="2146.31" cy="968.37" r="3.3"/><circle cx="2149.35" cy="973.07" r="3.3"/><circle cx="2152.39" cy="974.63" r="3.3"/><circle cx="2155.43" cy="987.15" r="3.3"/><circle cx="2158.47" cy="965.24" r="3.3"/><circle cx="2161.51" cy="973.07" r="3.3"/><circle cx="2164.55" cy="977.76" r="3.3"/><circle cx="2167.59" cy="974.63" r="3.3"/><circle cx="2170.63" cy="982.46" r="3.3"/><circle cx="2173.67" cy="962.11" r="3.3"/><circle cx="2176.71" cy="966.81" r="3.3"/><circle cx="2179.75" cy="958.98" r="3.3"/><circle cx="2182.79" cy="987.15" r="3.3"/><circle cx="2185.83" cy="971.50" r="3.3"/><circle cx="2188.87" cy="977.76" r="3.3"/><circle cx="2191.91" cy="969.93" r="3.3"/><circle cx="2194.95" cy="958.98" r="3.3"/><circle cx="2197.99" cy="985.59" r="3.3"/><circle cx="2201.03" cy="958.98" r="3.3"/><circle cx="2204.07" cy="974.63" r="3.3"/><circle cx="2207.11" cy="980.89" r="3.3"/><circle cx="2210.15" cy="958.98" r="3.3"/><circle cx="2213.19" cy="973.07" r="3.3"/><circle cx="2216.23" cy="974.63" r="3.3"/><circle cx="2219.27" cy="973.07" r="3.3"/><circle cx="2222.31" cy="977.76" r="3.3"/><circle cx="2225.35" cy="958.98" r="3.3"/><circle cx="2228.38" cy="985.59" r="3.3"/><circle cx="2231.42" cy="968.37" r="3.3"/><circle cx="2234.46" cy="985.59" r="3.3"/><circle cx="2237.50" cy="973.07" r="3.3"/><circle cx="2240.54" cy="962.11" r="3.3"/><circle cx="2243.58" cy="973.07" r="3.3"/><circle cx="2246.62" cy="968.37" r="3.3"/><circle cx="2249.66" cy="968.37" r="3.3"/><circle cx="2252.70" cy="985.59" r="3.3"/><circle cx="2255.74" cy="982.46" r="3.3"/><circle cx="2258.78" cy="987.15" r="3.3"/><circle cx="2261.82" cy="985.59" r="3.3"/><circle cx="2264.86" cy="958.98" r="3.3"/><circle cx="2267.90" cy="971.50" r="3.3"/><circle cx="2270.94" cy="963.67" r="3.3"/><circle cx="2273.98" cy="974.63" r="3.3"/><circle cx="2277.02" cy="984.02" r="3.3"/><circle cx="2280.06" cy="963.67" r="3.3"/><circle cx="2283.10" cy="968.37" r="3.3"/><circle cx="2286.14" cy="962.11" r="3.3"/><circle cx="2289.18" cy="974.63" r="3.3"/><circle cx="2292.22" cy="973.07" r="3.3"/><circle cx="2295.26" cy="980.89" r="3.3"/><circle cx="2298.30" cy="966.81" r="3.3"/><circle cx="2301.34" cy="979.33" r="3.3"/><circle cx="2304.38" cy="973.07" r="3.3"/><circle cx="2307.42" cy="973.07" r="3.3"/><circle cx="2310.46" cy="973.07" r="3.3"/><circle cx="2313.50" cy="974.63" r="3.3"/><circle cx="2316.54" cy="965.24" r="3.3"/><circle cx="2319.58" cy="985.59" r="3.3"/><circle cx="2322.62" cy="974.63" r="3.3"/><circle cx="2325.66" cy="960.54" r="3.3"/><circle cx="2328.70" cy="958.98" r="3.3"/><circle cx="2331.74" cy="987.15" r="3.3"/><circle cx="2334.78" cy="965.24" r="3.3"/><circle cx="2337.82" cy="966.81" r="3.3"/><circle cx="2340.86" cy="963.67" r="3.3"/><circle cx="2343.90" cy="976.20" r="3.3"/><circle cx="2346.94" cy="958.98" r="3.3"/><circle cx="2349.98" cy="973.07" r="3.3"/><circle cx="2353.02" cy="960.54" r="3.3"/><circle cx="2356.06" cy="966.81" r="3.3"/><circle cx="2359.10" cy="971.50" r="3.3"/><circle cx="2362.14" cy="987.15" r="3.3"/><circle cx="2365.18" cy="987.15" r="3.3"/><circle cx="2368.22" cy="957.41" r="3.3"/><circle cx="2371.26" cy="977.76" r="3.3"/><circle cx="2374.30" cy="980.89" r="3.3"/><circle cx="2377.34" cy="968.37" r="3.3"/><circle cx="2380.38" cy="973.07" r="3.3"/><circle cx="2383.42" cy="958.98" r="3.3"/><circle cx="2386.46" cy="973.07" r="3.3"/><circle cx="2389.50" cy="958.98" r="3.3"/><circle cx="2392.54" cy="963.67" r="3.3"/><circle cx="2395.58" cy="973.07" r="3.3"/><circle cx="2398.62" cy="987.15" r="3.3"/><circle cx="2401.66" cy="982.46" r="3.3"/><circle cx="2404.70" cy="973.07" r="3.3"/><circle cx="2407.74" cy="980.89" r="3.3"/><circle cx="2410.78" cy="987.15" r="3.3"/><circle cx="2413.82" cy="971.50" r="3.3"/><circle cx="2416.85" cy="969.93" r="3.3"/><circle cx="2419.89" cy="987.15" r="3.3"/><circle cx="2422.93" cy="976.20" r="3.3"/><circle cx="2425.97" cy="965.24" r="3.3"/><circle cx="2429.01" cy="977.76" r="3.3"/><circle cx="2432.05" cy="987.15" r="3.3"/><circle cx="2435.09" cy="974.63" r="3.3"/><circle cx="2438.13" cy="958.98" r="3.3"/><circle cx="2441.17" cy="976.20" r="3.3"/><circle cx="2444.21" cy="985.59" r="3.3"/><circle cx="2447.25" cy="968.37" r="3.3"/><circle cx="2450.29" cy="979.33" r="3.3"/><circle cx="2453.33" cy="969.93" r="3.3"/><circle cx="2456.37" cy="979.33" r="3.3"/><circle cx="2459.41" cy="965.24" r="3.3"/><circle cx="2462.45" cy="963.67" r="3.3"/><circle cx="2465.49" cy="974.63" r="3.3"/><circle cx="2468.53" cy="980.89" r="3.3"/><circle cx="2471.57" cy="979.33" r="3.3"/><circle cx="2474.61" cy="971.50" r="3.3"/><circle cx="2477.65" cy="985.59" r="3.3"/><circle cx="2480.69" cy="984.02" r="3.3"/><circle cx="2483.73" cy="987.15" r="3.3"/><circle cx="2486.77" cy="958.98" r="3.3"/><circle cx="2489.81" cy="985.59" r="3.3"/><circle cx="2492.85" cy="987.15" r="3.3"/><circle cx="2495.89" cy="974.63" r="3.3"/><circle cx="2498.93" cy="971.50" r="3.3"/><circle cx="2501.97" cy="971.50" r="3.3"/><circle cx="2505.01" cy="982.46" r="3.3"/><circle cx="2508.05" cy="968.37" r="3.3"/><circle cx="2511.09" cy="966.81" r="3.3"/><circle cx="2514.13" cy="971.50" r="3.3"/><circle cx="2517.17" cy="980.89" r="3.3"/><circle cx="2520.21" cy="987.15" r="3.3"/><circle cx="2523.25" cy="958.98" r="3.3"/><circle cx="2526.29" cy="976.20" r="3.3"/><circle cx="2529.33" cy="971.50" r="3.3"/><circle cx="2532.37" cy="958.98" r="3.3"/><circle cx="2535.41" cy="962.11" r="3.3"/><circle cx="2538.45" cy="980.89" r="3.3"/><circle cx="2541.49" cy="987.15" r="3.3"/><circle cx="2544.53" cy="973.07" r="3.3"/><circle cx="2547.57" cy="962.11" r="3.3"/><circle cx="2550.61" cy="974.63" r="3.3"/><circle cx="2553.65" cy="976.20" r="3.3"/><circle cx="2556.69" cy="984.02" r="3.3"/><circle cx="2559.73" cy="984.02" r="3.3"/><circle cx="2562.77" cy="982.46" r="3.3"/><circle cx="2565.81" cy="973.07" r="3.3"/><circle cx="2568.85" cy="974.63" r="3.3"/><circle cx="2571.89" cy="974.63" r="3.3"/><circle cx="2574.93" cy="957.41" r="3.3"/><circle cx="2577.97" cy="973.07" r="3.3"/><circle cx="2581.01" cy="963.67" r="3.3"/><circle cx="2584.05" cy="973.07" r="3.3"/><circle cx="2587.09" cy="980.89" r="3.3"/><circle cx="2590.13" cy="987.15" r="3.3"/><circle cx="2593.17" cy="984.02" r="3.3"/><circle cx="2596.21" cy="985.59" r="3.3"/><circle cx="2599.25" cy="971.50" r="3.3"/><circle cx="2602.28" cy="973.07" r="3.3"/><circle cx="2605.32" cy="965.24" r="3.3"/><circle cx="2608.36" cy="973.07" r="3.3"/><circle cx="2611.40" cy="971.50" r="3.3"/><circle cx="2614.44" cy="980.89" r="3.3"/><circle cx="2617.48" cy="980.89" r="3.3"/><circle cx="2620.52" cy="971.50" r="3.3"/><circle cx="2623.56" cy="965.24" r="3.3"/><circle cx="2626.60" cy="960.54" r="3.3"/><circle cx="2629.64" cy="963.67" r="3.3"/><circle cx="2632.68" cy="985.59" r="3.3"/><circle cx="2635.72" cy="969.93" r="3.3"/><circle cx="2638.76" cy="969.93" r="3.3"/><circle cx="2641.80" cy="980.89" r="3.3"/><circle cx="2644.84" cy="966.81" r="3.3"/><circle cx="2647.88" cy="969.93" r="3.3"/><circle cx="2650.92" cy="982.46" r="3.3"/><circle cx="2653.96" cy="958.98" r="3.3"/><circle cx="2657.00" cy="977.76" r="3.3"/><circle cx="2660.04" cy="987.15" r="3.3"/><circle cx="2663.08" cy="965.24" r="3.3"/><circle cx="2666.12" cy="958.98" r="3.3"/><circle cx="2669.16" cy="962.11" r="3.3"/><circle cx="2672.20" cy="968.37" r="3.3"/><circle cx="2675.24" cy="976.20" r="3.3"/><circle cx="2678.28" cy="965.24" r="3.3"/><circle cx="2681.32" cy="987.15" r="3.3"/><circle cx="2684.36" cy="976.20" r="3.3"/><circle cx="2687.40" cy="960.54" r="3.3"/><circle cx="2690.44" cy="976.20" r="3.3"/><circle cx="2693.48" cy="971.50" r="3.3"/></g>
</g>
<rect x="825.5" y="862.0" width="367.5" height="187.2" fill="#6e91c8" fill-opacity="0.12"/>
<rect x="1609.6" y="862.0" width="1085.4" height="187.2" fill="#6e91c8" fill-opacity="0.12"/>
<rect x="1193.0" y="862.6" width="416.6" height="185.7" fill="none" stroke="#222" stroke-width="1.4"/>
<path d="M1196 948.5V960.5M1198.8 948.5V960.5M1603.8 948.5V960.5M1606.6 948.5V960.5" stroke="#111" stroke-width="1.3"/>
<path d="M1611.0 1076.2H1623.0" stroke="#fdfd9b" stroke-width="3.6"/>
<path d="M1672.0 1076.2H1684.5" stroke="#fd9a9e" stroke-width="3.6"/>
<path d="M1732.0 1076.2H1744.7" stroke="#fdfd9b" stroke-width="3.6"/>
<path d="M1789.8 1076.2H1802.0" stroke="#fd9a9e" stroke-width="3.6"/>
<text x="1633.0" y="1081.1" font-size="12.96" letter-spacing="-0.176" fill="#a9a9a9">UCL</text>
<text x="1693.8" y="1081.1" font-size="12.96" letter-spacing="-0.137" fill="#a9a9a9">USL</text>
<text x="1754.0" y="1081.1" font-size="12.96" letter-spacing="-0.459" fill="#a9a9a9">LCL</text>
<text x="1811.5" y="1081.1" font-size="12.96" letter-spacing="-0.654" fill="#a9a9a9">LSL</text>
<path d="M1846 1076.2H1858" stroke="#0000ff" stroke-width="3"/><circle cx="1852" cy="1076.2" r="3.8" fill="#0000ff"/>
<text x="1867.4" y="1081.1" font-size="13.29" letter-spacing="0.000" fill="#111">VALUE</text>
</svg>
<div class="abs" style="left:1367.6px;top:216.5px;width:234.2px;height:161.3px;background:#fff;border:1.3px solid #0000ff;border-radius:3px"></div>
<div class="t" style="left:1378.60px;top:228.90px;font-size:13.97px;line-height:18px;color:#1a1a1a;letter-spacing:0.112px;">Value: 59</div>
<div class="t" style="left:1378.60px;top:248.96px;font-size:13.97px;line-height:18px;color:#1a1a1a;letter-spacing:0.076px;">Lot: SFT84231240600390</div>
<div class="t" style="left:1378.60px;top:269.02px;font-size:13.97px;line-height:18px;color:#1a1a1a;letter-spacing:0.180px;">Unit ID: SFT84231240600390-02</div>
<div class="t" style="left:1378.60px;top:289.08px;font-size:13.97px;line-height:18px;color:#1a1a1a;letter-spacing:0.274px;">Time: 29-JUN-2024 11:54:30</div>
<div class="t" style="left:1378.60px;top:309.64px;font-size:13.38px;line-height:17px;color:#1a1a1a;">Equip: L_EX_50</div>
<div class="t" style="left:1378.60px;top:329.20px;font-size:13.97px;line-height:18px;color:#1a1a1a;letter-spacing:0.025px;">Recipe: 2 CON MSK</div>
<div class="t" style="left:1378.60px;top:349.26px;font-size:13.97px;line-height:18px;color:#1a1a1a;letter-spacing:0.602px;">Annotation:</div>
</body></html>
